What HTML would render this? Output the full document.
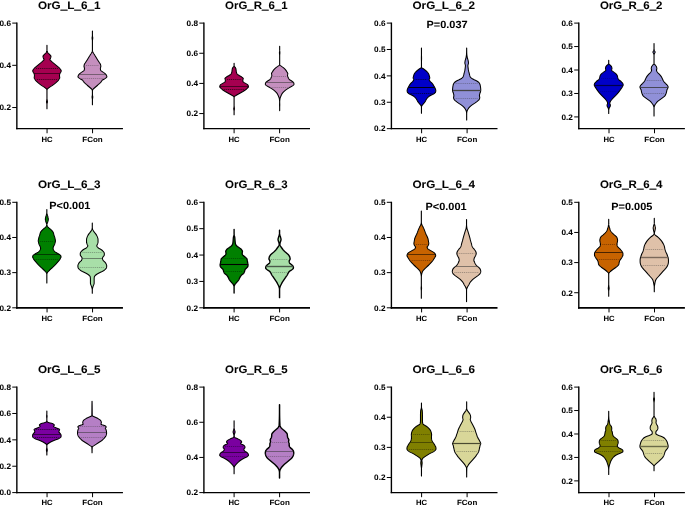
<!DOCTYPE html>
<html lang="en"><head><meta charset="utf-8"><title>Violin plots</title>
<style>html,body{margin:0;padding:0;background:#fff;}body{width:685px;height:506px;overflow:hidden;}svg{display:block;}text{font-family:"Liberation Sans",sans-serif;font-weight:bold;fill:#000;stroke:#000;stroke-width:0.05px;text-rendering:geometricPrecision;}.t{font-size:10.9px;text-anchor:middle;stroke-width:0.04px;}.p{font-size:10.4px;text-anchor:middle;stroke-width:0.04px;}.y{font-size:7.9px;text-anchor:end;}.x{font-size:7.5px;text-anchor:middle;}.u{stroke-width:0.55px;}.a{stroke:#000;stroke-width:1.4;fill:none;}.k{stroke:#000;stroke-width:1;fill:none;}</style></head><body>
<svg width="685" height="506" viewBox="0 0 685 506">
<rect width="685" height="506" fill="#fff"/>
<g>
<path d="M16.15 128.65 H122.95" stroke="#000" stroke-width="1.2" fill="none"/>
<path class="a" d="M16.85 22.55 V129.25"/>
<path class="k" d="M12.25 23.1 h4.6M12.25 65.32 h4.6M12.25 107.54 h4.6M47.05 128.65 v4.6M92.55 128.65 v4.6"/>
<text class="y" x="10.95" y="25.9" textLength="11.4" lengthAdjust="spacingAndGlyphs">0.6</text>
<text class="y" x="10.95" y="68.12" textLength="11.4" lengthAdjust="spacingAndGlyphs">0.4</text>
<text class="y" x="10.95" y="110.34" textLength="11.4" lengthAdjust="spacingAndGlyphs">0.2</text>
<text class="x" x="47.05" y="141.65" textLength="11.1" lengthAdjust="spacingAndGlyphs">HC</text>
<text class="x" x="92.55" y="141.65" textLength="20.4" lengthAdjust="spacingAndGlyphs">FCon</text>
<text class="t" x="69.25" y="8.8" textLength="62.6" lengthAdjust="spacingAndGlyphs">OrG<tspan class="u">_</tspan>L<tspan class="u">_</tspan>6<tspan class="u">_</tspan>1</text>
<path d="M46.94 45.27L46.94 45.78L46.94 46.28L46.94 46.79L46.94 47.29L46.94 47.79L46.94 48.3L46.94 48.8L46.94 49.31L46.94 49.81L46.94 50.31L46.93 50.82L46.83 51.32L46.62 51.83L46.36 52.33L46.05 52.84L45.55 53.34L44.97 53.84L44.44 54.35L43.97 54.85L43.49 55.36L43.11 55.86L42.98 56.37L43.03 56.87L43.15 57.37L43.31 57.88L43.49 58.38L43.82 58.89L44.04 59.39L43.91 59.89L43.49 60.4L42.94 60.9L42.41 61.41L41.88 61.91L41.3 62.42L40.7 62.92L40.11 63.42L39.51 63.93L38.9 64.43L38.29 64.94L37.68 65.44L37.06 65.94L36.45 66.45L35.87 66.95L35.28 67.46L34.69 67.96L34.16 68.47L33.74 68.97L33.35 69.47L33 69.98L32.78 70.48L32.76 70.99L32.9 71.49L33.13 72L33.36 72.5L33.69 73L34.03 73.51L34.21 74.01L34.31 74.52L34.39 75.02L34.43 75.52L34.43 76.03L34.35 76.53L34.25 77.04L34.19 77.54L34.24 78.05L34.44 78.55L34.74 79.05L35.11 79.56L35.49 80.06L35.87 80.57L36.33 81.07L36.85 81.57L37.4 82.08L37.96 82.58L38.54 83.09L39.14 83.59L39.76 84.1L40.42 84.6L41.09 85.1L41.81 85.61L42.61 86.11L43.42 86.62L44.2 87.12L44.88 87.63L45.52 88.13L46.16 88.63L46.66 89.14L46.87 89.64L46.92 90.15L46.94 90.65L46.94 91.15L46.94 91.66L46.94 92.16L46.94 92.67L46.94 93.17L46.94 93.68L46.94 94.18L46.94 94.68L46.94 95.19L46.94 95.69L46.94 96.2L46.94 96.7L46.94 97.2L46.94 97.71L46.94 98.21L46.94 98.72L46.93 99.22L46.87 99.73L46.76 100.23L46.63 100.73L46.54 101.24L46.49 101.74L46.54 102.25L46.67 102.75L46.82 103.25L46.92 103.76L46.94 104.26L46.94 104.77L46.94 105.27L46.94 105.78L46.94 106.28L46.94 106.78L46.94 107.29L46.94 107.79L46.94 108.3L46.94 108.8L47 108.8L47 108.3L47 107.79L47 107.29L47 106.78L47 106.28L47 105.78L47 105.27L47 104.77L47 104.26L47.02 103.76L47.12 103.25L47.27 102.75L47.4 102.25L47.45 101.74L47.41 101.24L47.31 100.73L47.19 100.23L47.08 99.73L47.01 99.22L47 98.72L47 98.21L47 97.71L47 97.2L47 96.7L47 96.2L47 95.69L47 95.19L47 94.68L47 94.18L47 93.68L47 93.17L47 92.67L47 92.16L47 91.66L47 91.15L47 90.65L47.03 90.15L47.07 89.64L47.28 89.14L47.78 88.63L48.42 88.13L49.06 87.63L49.75 87.12L50.52 86.62L51.34 86.11L52.13 85.61L52.85 85.1L53.53 84.6L54.18 84.1L54.81 83.59L55.41 83.09L55.98 82.58L56.54 82.08L57.09 81.57L57.61 81.07L58.07 80.57L58.46 80.06L58.83 79.56L59.2 79.05L59.5 78.55L59.7 78.05L59.75 77.54L59.69 77.04L59.59 76.53L59.52 76.03L59.51 75.52L59.55 75.02L59.63 74.52L59.73 74.01L59.92 73.51L60.25 73L60.58 72.5L60.82 72L61.04 71.49L61.18 70.99L61.16 70.48L60.94 69.98L60.59 69.47L60.2 68.97L59.78 68.47L59.25 67.96L58.66 67.46L58.08 66.95L57.49 66.45L56.88 65.94L56.26 65.44L55.65 64.94L55.04 64.43L54.43 63.93L53.83 63.42L53.24 62.92L52.64 62.42L52.06 61.91L51.53 61.41L51 60.9L50.45 60.4L50.04 59.89L49.9 59.39L50.13 58.89L50.45 58.38L50.63 57.88L50.79 57.37L50.91 56.87L50.97 56.37L50.83 55.86L50.45 55.36L49.97 54.85L49.51 54.35L48.98 53.84L48.39 53.34L47.89 52.84L47.58 52.33L47.32 51.83L47.11 51.32L47.01 50.82L47 50.31L47 49.81L47 49.31L47 48.8L47 48.3L47 47.79L47 47.29L47 46.79L47 46.28L47 45.78L47 45.27Z" fill="#A50050" stroke="#000" stroke-width="1.05" stroke-linejoin="round"/>
<line x1="36.03" y1="68.5" x2="57.91" y2="68.5" stroke="#000" stroke-width="0.6" stroke-dasharray="1.1 0.8"/>
<line x1="34.32" y1="73.5" x2="59.62" y2="73.5" stroke="#000" stroke-width="0.55"/>
<line x1="36.97" y1="79.5" x2="56.97" y2="79.5" stroke="#000" stroke-width="0.6" stroke-dasharray="1.1 0.8"/>
<path d="M92.39 30.96L92.39 31.47L92.39 31.97L92.39 32.47L92.39 32.98L92.39 33.48L92.39 33.99L92.39 34.49L92.39 35L92.39 35.5L92.37 36.01L92.29 36.51L92.18 37.02L92.1 37.52L92.07 38.03L92.1 38.53L92.18 39.04L92.27 39.54L92.35 40.05L92.39 40.55L92.39 41.06L92.39 41.56L92.39 42.07L92.39 42.57L92.39 43.08L92.39 43.58L92.39 44.08L92.39 44.59L92.39 45.09L92.39 45.6L92.39 46.1L92.39 46.61L92.39 47.11L92.39 47.62L92.39 48.12L92.39 48.63L92.39 49.13L92.39 49.64L92.39 50.14L92.39 50.65L92.31 51.15L92.1 51.66L91.83 52.16L91.57 52.67L91.3 53.17L91 53.68L90.68 54.18L90.35 54.68L90.05 55.19L89.74 55.69L89.44 56.2L89.14 56.7L88.83 57.21L88.53 57.71L88.23 58.22L87.93 58.72L87.63 59.23L87.33 59.73L87.01 60.24L86.69 60.74L86.35 61.25L86.02 61.75L85.69 62.26L85.37 62.76L85.02 63.27L84.69 63.77L84.42 64.28L84.26 64.78L84.12 65.29L84.02 65.79L83.97 66.29L84.04 66.8L84.22 67.3L84.4 67.81L84.47 68.31L84.44 68.82L84.38 69.32L84.29 69.83L84.13 70.33L83.65 70.84L82.93 71.34L82.18 71.85L81.5 72.35L80.76 72.86L80.05 73.36L79.48 73.87L79.05 74.37L78.68 74.88L78.37 75.38L78.15 75.89L77.98 76.39L77.99 76.9L78.33 77.4L78.87 77.9L79.47 78.41L80.34 78.91L81.37 79.42L82.28 79.92L82.81 80.43L83.15 80.93L83.43 81.44L83.75 81.94L84.18 82.45L84.67 82.95L85.2 83.46L85.75 83.96L86.31 84.47L86.91 84.97L87.51 85.48L88.11 85.98L88.71 86.49L89.31 86.99L89.89 87.5L90.45 88L91.04 88.51L91.58 89.01L91.96 89.51L92.19 90.02L92.35 90.52L92.39 91.03L92.39 91.53L92.39 92.04L92.39 92.54L92.39 93.05L92.39 93.55L92.39 94.06L92.39 94.56L92.36 95.07L92.28 95.57L92.17 96.08L92.09 96.58L92.07 97.09L92.11 97.59L92.19 98.1L92.28 98.6L92.36 99.11L92.39 99.61L92.39 100.11L92.39 100.62L92.39 101.12L92.39 101.63L92.39 102.13L92.39 102.64L92.39 103.14L92.39 103.65L92.39 104.15L92.39 104.66L92.45 104.66L92.45 104.15L92.45 103.65L92.45 103.14L92.45 102.64L92.45 102.13L92.45 101.63L92.45 101.12L92.45 100.62L92.45 100.11L92.45 99.61L92.48 99.11L92.56 98.6L92.65 98.1L92.73 97.59L92.77 97.09L92.75 96.58L92.67 96.08L92.56 95.57L92.48 95.07L92.45 94.56L92.45 94.06L92.45 93.55L92.45 93.05L92.45 92.54L92.45 92.04L92.45 91.53L92.45 91.03L92.49 90.52L92.65 90.02L92.87 89.51L93.26 89.01L93.8 88.51L94.39 88L94.95 87.5L95.53 86.99L96.13 86.49L96.73 85.98L97.33 85.48L97.93 84.97L98.53 84.47L99.09 83.96L99.64 83.46L100.17 82.95L100.66 82.45L101.09 81.94L101.41 81.44L101.69 80.93L102.03 80.43L102.56 79.92L103.47 79.42L104.5 78.91L105.37 78.41L105.97 77.9L106.51 77.4L106.85 76.9L106.86 76.39L106.69 75.89L106.47 75.38L106.16 74.88L105.79 74.37L105.36 73.87L104.79 73.36L104.08 72.86L103.34 72.35L102.66 71.85L101.91 71.34L101.19 70.84L100.71 70.33L100.55 69.83L100.46 69.32L100.4 68.82L100.37 68.31L100.44 67.81L100.62 67.3L100.8 66.8L100.87 66.29L100.82 65.79L100.72 65.29L100.58 64.78L100.42 64.28L100.15 63.77L99.82 63.27L99.47 62.76L99.15 62.26L98.82 61.75L98.49 61.25L98.15 60.74L97.83 60.24L97.51 59.73L97.21 59.23L96.91 58.72L96.61 58.22L96.31 57.71L96.01 57.21L95.7 56.7L95.4 56.2L95.1 55.69L94.79 55.19L94.49 54.68L94.16 54.18L93.84 53.68L93.54 53.17L93.27 52.67L93.01 52.16L92.74 51.66L92.53 51.15L92.45 50.65L92.45 50.14L92.45 49.64L92.45 49.13L92.45 48.63L92.45 48.12L92.45 47.62L92.45 47.11L92.45 46.61L92.45 46.1L92.45 45.6L92.45 45.09L92.45 44.59L92.45 44.08L92.45 43.58L92.45 43.08L92.45 42.57L92.45 42.07L92.45 41.56L92.45 41.06L92.45 40.55L92.49 40.05L92.57 39.54L92.66 39.04L92.74 38.53L92.77 38.03L92.74 37.52L92.66 37.02L92.55 36.51L92.47 36.01L92.45 35.5L92.45 35L92.45 34.49L92.45 33.99L92.45 33.48L92.45 32.98L92.45 32.47L92.45 31.97L92.45 31.47L92.45 30.96Z" fill="#C58FBE" stroke="#000" stroke-width="1.05" stroke-linejoin="round"/>
<line x1="85.97" y1="65.5" x2="98.87" y2="65.5" stroke="#333" stroke-width="0.6" stroke-dasharray="1.1 0.8" stroke-opacity="0.6"/>
<line x1="79.25" y1="74.5" x2="105.59" y2="74.5" stroke="#333" stroke-width="0.55"/>
<line x1="81.52" y1="78.5" x2="103.32" y2="78.5" stroke="#333" stroke-width="0.6" stroke-dasharray="1.1 0.8" stroke-opacity="0.6"/>
</g>
<g>
<path d="M203.2 128.65 H310" stroke="#000" stroke-width="1.2" fill="none"/>
<path class="a" d="M203.9 22.55 V129.25"/>
<path class="k" d="M199.3 23.1 h4.6M199.3 53.26 h4.6M199.3 83.41 h4.6M199.3 113.57 h4.6M234.1 128.65 v4.6M279.6 128.65 v4.6"/>
<text class="y" x="198" y="25.9" textLength="11.4" lengthAdjust="spacingAndGlyphs">0.8</text>
<text class="y" x="198" y="56.06" textLength="11.4" lengthAdjust="spacingAndGlyphs">0.6</text>
<text class="y" x="198" y="86.21" textLength="11.4" lengthAdjust="spacingAndGlyphs">0.4</text>
<text class="y" x="198" y="116.37" textLength="11.4" lengthAdjust="spacingAndGlyphs">0.2</text>
<text class="x" x="234.1" y="141.65" textLength="11.1" lengthAdjust="spacingAndGlyphs">HC</text>
<text class="x" x="279.6" y="141.65" textLength="20.4" lengthAdjust="spacingAndGlyphs">FCon</text>
<text class="t" x="256.3" y="8.8" textLength="62.6" lengthAdjust="spacingAndGlyphs">OrG<tspan class="u">_</tspan>R<tspan class="u">_</tspan>6<tspan class="u">_</tspan>1</text>
<path d="M234.06 63.16L234.06 63.66L234.06 64.17L234.06 64.67L234.06 65.18L234.06 65.69L234.06 66.19L233.77 66.7L233.22 67.2L232.74 67.71L232.49 68.22L232.33 68.72L232.21 69.23L232.12 69.73L232.06 70.24L232.01 70.74L231.97 71.25L231.91 71.76L231.8 72.26L231.64 72.77L231.44 73.27L231.16 73.78L230.69 74.29L230.07 74.79L229.38 75.3L228.62 75.8L227.67 76.31L226.73 76.82L225.98 77.32L225.4 77.83L224.96 78.33L224.92 78.84L225.13 79.34L225.35 79.85L225.38 80.36L225.33 80.86L225.23 81.37L225.07 81.87L224.46 82.38L223.53 82.89L222.66 83.39L221.82 83.9L220.96 84.4L220.33 84.91L220.06 85.42L219.87 85.92L219.76 86.43L219.76 86.93L220.05 87.44L220.54 87.94L221.05 88.45L221.61 88.96L222.25 89.46L222.95 89.97L223.68 90.47L224.44 90.98L225.25 91.49L226.1 91.99L226.97 92.5L227.84 93L228.73 93.51L229.66 94.02L230.57 94.52L231.44 95.03L232.3 95.53L233.22 96.04L233.87 96.55L234.01 97.05L234.04 97.56L234.05 98.06L234.06 98.57L234.06 99.07L234.06 99.58L234.06 100.09L234.06 100.59L234.06 101.1L234.06 101.6L234.06 102.11L234.06 102.62L234.06 103.12L234.06 103.63L234.06 104.13L234.06 104.64L234.06 105.15L234.06 105.65L234.06 106.16L234.04 106.66L233.96 107.17L233.86 107.67L233.78 108.18L233.74 108.69L233.77 109.19L233.85 109.7L233.94 110.2L234.02 110.71L234.06 111.22L234.06 111.72L234.06 112.23L234.06 112.73L234.06 113.24L234.06 113.75L234.06 114.25L234.06 114.76L234.12 114.76L234.12 114.25L234.12 113.75L234.12 113.24L234.12 112.73L234.12 112.23L234.12 111.72L234.12 111.22L234.16 110.71L234.24 110.2L234.34 109.7L234.42 109.19L234.45 108.69L234.41 108.18L234.32 107.67L234.23 107.17L234.15 106.66L234.12 106.16L234.12 105.65L234.12 105.15L234.12 104.64L234.12 104.13L234.12 103.63L234.12 103.12L234.12 102.62L234.12 102.11L234.12 101.6L234.12 101.1L234.12 100.59L234.12 100.09L234.12 99.58L234.12 99.07L234.12 98.57L234.13 98.06L234.15 97.56L234.18 97.05L234.31 96.55L234.96 96.04L235.89 95.53L236.75 95.03L237.61 94.52L238.53 94.02L239.45 93.51L240.34 93L241.21 92.5L242.08 91.99L242.93 91.49L243.74 90.98L244.5 90.47L245.23 89.97L245.93 89.46L246.58 88.96L247.13 88.45L247.64 87.94L248.13 87.44L248.42 86.93L248.42 86.43L248.31 85.92L248.13 85.42L247.86 84.91L247.22 84.4L246.37 83.9L245.53 83.39L244.65 82.89L243.73 82.38L243.11 81.87L242.95 81.37L242.85 80.86L242.8 80.36L242.83 79.85L243.05 79.34L243.26 78.84L243.22 78.33L242.79 77.83L242.21 77.32L241.46 76.82L240.51 76.31L239.56 75.8L238.81 75.3L238.11 74.79L237.49 74.29L237.02 73.78L236.75 73.27L236.54 72.77L236.38 72.26L236.28 71.76L236.21 71.25L236.17 70.74L236.13 70.24L236.07 69.73L235.98 69.23L235.86 68.72L235.69 68.22L235.44 67.71L234.97 67.2L234.42 66.7L234.12 66.19L234.12 65.69L234.12 65.18L234.12 64.67L234.12 64.17L234.12 63.66L234.12 63.16Z" fill="#A50050" stroke="#000" stroke-width="1.05" stroke-linejoin="round"/>
<line x1="227.1" y1="79.5" x2="241.08" y2="79.5" stroke="#000" stroke-width="0.6" stroke-dasharray="1.1 0.8"/>
<line x1="220.06" y1="86.5" x2="248.12" y2="86.5" stroke="#000" stroke-width="0.55"/>
<line x1="224.2" y1="89.5" x2="243.98" y2="89.5" stroke="#000" stroke-width="0.6" stroke-dasharray="1.1 0.8"/>
<path d="M279.64 46.33L279.64 46.84L279.64 47.35L279.64 47.85L279.64 48.36L279.64 48.86L279.64 49.37L279.64 49.88L279.64 50.38L279.61 50.89L279.56 51.39L279.49 51.9L279.45 52.41L279.44 52.91L279.47 53.42L279.52 53.92L279.58 54.43L279.62 54.94L279.64 55.44L279.64 55.95L279.64 56.46L279.64 56.96L279.64 57.47L279.64 57.97L279.64 58.48L279.64 58.99L279.64 59.49L279.64 60L279.64 60.5L279.64 61.01L279.64 61.52L279.64 62.02L279.64 62.53L279.64 63.04L279.64 63.54L279.64 64.05L279.64 64.55L279.51 65.06L278.84 65.57L278.08 66.07L277.4 66.58L276.69 67.08L276.01 67.59L275.42 68.1L274.89 68.6L274.39 69.11L273.95 69.62L273.55 70.12L273.2 70.63L272.87 71.13L272.56 71.64L272.23 72.15L271.88 72.65L271.61 73.16L271.53 73.66L271.6 74.17L271.72 74.68L271.82 75.18L271.83 75.69L271.7 76.2L271.5 76.7L271.27 77.21L271.07 77.71L270.86 78.22L270.6 78.73L270.27 79.23L269.69 79.74L268.87 80.24L268.02 80.75L267.33 81.26L266.68 81.76L266.09 82.27L265.66 82.78L265.48 83.28L265.36 83.79L265.32 84.29L265.58 84.8L266.16 85.31L266.88 85.81L267.59 86.32L268.43 86.82L269.37 87.33L270.29 87.84L271.12 88.34L271.94 88.85L272.72 89.36L273.43 89.86L274.07 90.37L274.66 90.87L275.2 91.38L275.71 91.89L276.2 92.39L276.66 92.9L277.06 93.4L277.4 93.91L277.69 94.42L277.95 94.92L278.18 95.43L278.4 95.94L278.6 96.44L278.8 96.95L278.99 97.45L279.15 97.96L279.27 98.47L279.36 98.97L279.43 99.48L279.5 99.98L279.56 100.49L279.61 101L279.63 101.5L279.64 102.01L279.63 102.52L279.61 103.02L279.6 103.53L279.58 104.03L279.57 104.54L279.56 105.05L279.57 105.55L279.59 106.06L279.61 106.56L279.63 107.07L279.64 107.58L279.64 108.08L279.64 108.59L279.64 109.1L279.64 109.6L279.64 110.11L279.64 110.61L279.7 110.61L279.7 110.11L279.7 109.6L279.7 109.1L279.7 108.59L279.7 108.08L279.7 107.58L279.7 107.07L279.72 106.56L279.74 106.06L279.76 105.55L279.77 105.05L279.77 104.54L279.75 104.03L279.74 103.53L279.72 103.02L279.71 102.52L279.7 102.01L279.7 101.5L279.73 101L279.77 100.49L279.83 99.98L279.9 99.48L279.98 98.97L280.06 98.47L280.19 97.96L280.35 97.45L280.53 96.95L280.73 96.44L280.93 95.94L281.15 95.43L281.38 94.92L281.65 94.42L281.94 93.91L282.27 93.4L282.67 92.9L283.13 92.39L283.62 91.89L284.13 91.38L284.68 90.87L285.27 90.37L285.91 89.86L286.62 89.36L287.4 88.85L288.21 88.34L289.05 87.84L289.97 87.33L290.91 86.82L291.75 86.32L292.45 85.81L293.17 85.31L293.75 84.8L294.02 84.29L293.98 83.79L293.86 83.28L293.67 82.78L293.25 82.27L292.65 81.76L292 81.26L291.32 80.75L290.46 80.24L289.64 79.74L289.06 79.23L288.73 78.73L288.48 78.22L288.27 77.71L288.06 77.21L287.84 76.7L287.63 76.2L287.51 75.69L287.51 75.18L287.61 74.68L287.73 74.17L287.8 73.66L287.72 73.16L287.45 72.65L287.1 72.15L286.77 71.64L286.46 71.13L286.14 70.63L285.78 70.12L285.39 69.62L284.94 69.11L284.45 68.6L283.91 68.1L283.32 67.59L282.64 67.08L281.93 66.58L281.25 66.07L280.49 65.57L279.82 65.06L279.7 64.55L279.7 64.05L279.7 63.54L279.7 63.04L279.7 62.53L279.7 62.02L279.7 61.52L279.7 61.01L279.7 60.5L279.7 60L279.7 59.49L279.7 58.99L279.7 58.48L279.7 57.97L279.7 57.47L279.7 56.96L279.7 56.46L279.7 55.95L279.7 55.44L279.71 54.94L279.75 54.43L279.81 53.92L279.86 53.42L279.89 52.91L279.88 52.41L279.84 51.9L279.78 51.39L279.72 50.89L279.7 50.38L279.7 49.88L279.7 49.37L279.7 48.86L279.7 48.36L279.7 47.85L279.7 47.35L279.7 46.84L279.7 46.33Z" fill="#C58FBE" stroke="#000" stroke-width="1.05" stroke-linejoin="round"/>
<line x1="273.48" y1="76.5" x2="285.86" y2="76.5" stroke="#333" stroke-width="0.6" stroke-dasharray="1.1 0.8" stroke-opacity="0.6"/>
<line x1="266.19" y1="82.5" x2="293.14" y2="82.5" stroke="#333" stroke-width="0.55"/>
<line x1="271.57" y1="87.5" x2="287.76" y2="87.5" stroke="#333" stroke-width="0.6" stroke-dasharray="1.1 0.8" stroke-opacity="0.6"/>
</g>
<g>
<path d="M390.7 128.65 H497.5" stroke="#000" stroke-width="1.2" fill="none"/>
<path class="a" d="M391.4 22.55 V129.25"/>
<path class="k" d="M386.8 23.1 h4.6M386.8 49.49 h4.6M386.8 75.88 h4.6M386.8 102.26 h4.6M386.8 128.65 h4.6M421.6 128.65 v4.6M467.1 128.65 v4.6"/>
<text class="y" x="385.5" y="25.9" textLength="11.4" lengthAdjust="spacingAndGlyphs">0.6</text>
<text class="y" x="385.5" y="52.29" textLength="11.4" lengthAdjust="spacingAndGlyphs">0.5</text>
<text class="y" x="385.5" y="78.67" textLength="11.4" lengthAdjust="spacingAndGlyphs">0.4</text>
<text class="y" x="385.5" y="105.06" textLength="11.4" lengthAdjust="spacingAndGlyphs">0.3</text>
<text class="y" x="385.5" y="131.45" textLength="11.4" lengthAdjust="spacingAndGlyphs">0.2</text>
<text class="x" x="421.6" y="141.65" textLength="11.1" lengthAdjust="spacingAndGlyphs">HC</text>
<text class="x" x="467.1" y="141.65" textLength="20.4" lengthAdjust="spacingAndGlyphs">FCon</text>
<text class="t" x="443.8" y="8.8" textLength="62.6" lengthAdjust="spacingAndGlyphs">OrG<tspan class="u">_</tspan>L<tspan class="u">_</tspan>6<tspan class="u">_</tspan>2</text>
<text class="p" x="447.1" y="27.6" textLength="41.1" lengthAdjust="spacingAndGlyphs">P=0.037</text>
<path d="M421.43 47.96L421.43 48.46L421.43 48.97L421.43 49.47L421.43 49.98L421.43 50.49L421.43 50.99L421.43 51.5L421.43 52L421.43 52.51L421.43 53.02L421.43 53.52L421.43 54.03L421.43 54.54L421.43 55.04L421.42 55.55L421.4 56.05L421.39 56.56L421.38 57.07L421.37 57.57L421.36 58.08L421.36 58.58L421.37 59.09L421.38 59.6L421.39 60.1L421.4 60.61L421.42 61.11L421.43 61.62L421.43 62.13L421.43 62.63L421.43 63.14L421.43 63.64L421.43 64.15L421.43 64.66L421.43 65.16L421.43 65.67L421.43 66.18L421.43 66.68L421.43 67.19L421.28 67.69L420.47 68.2L419.62 68.71L418.95 69.21L418.3 69.72L417.67 70.22L417.08 70.73L416.48 71.24L415.92 71.74L415.43 72.25L415.04 72.75L414.7 73.26L414.41 73.77L414.16 74.27L413.96 74.78L413.78 75.28L413.63 75.79L413.49 76.3L413.36 76.8L413.23 77.31L413.15 77.82L413.18 78.32L413.47 78.83L413.77 79.33L413.79 79.84L413.55 80.35L413.18 80.85L412.79 81.36L412.3 81.86L411.75 82.37L411.22 82.88L410.78 83.38L410.39 83.89L410.03 84.39L409.68 84.9L409.35 85.41L409.04 85.91L408.74 86.42L408.47 86.92L408.2 87.43L407.95 87.94L407.73 88.44L407.55 88.95L407.37 89.46L407.21 89.96L407.12 90.47L407.13 90.97L407.2 91.48L407.32 91.99L407.55 92.49L408.06 93L408.73 93.5L409.47 94.01L410.45 94.52L411.51 95.02L412.46 95.53L413.35 96.03L414.16 96.54L414.78 97.05L415.27 97.55L415.69 98.06L416.05 98.57L416.39 99.07L416.67 99.58L416.94 100.08L417.22 100.59L417.54 101.1L417.86 101.6L418.2 102.11L418.57 102.61L418.98 103.12L419.42 103.63L419.85 104.13L420.25 104.64L420.68 105.14L421.07 105.65L421.33 106.16L421.39 106.66L421.42 107.17L421.43 107.67L421.43 108.18L421.43 108.69L421.43 109.19L421.43 109.7L421.43 110.21L421.43 110.71L421.43 111.22L421.43 111.72L421.43 112.23L421.43 112.74L421.43 113.24L421.49 113.24L421.49 112.74L421.49 112.23L421.49 111.72L421.49 111.22L421.49 110.71L421.49 110.21L421.49 109.7L421.49 109.19L421.49 108.69L421.49 108.18L421.49 107.67L421.5 107.17L421.54 106.66L421.6 106.16L421.86 105.65L422.25 105.14L422.68 104.64L423.07 104.13L423.51 103.63L423.95 103.12L424.36 102.61L424.72 102.11L425.07 101.6L425.39 101.1L425.71 100.59L425.99 100.08L426.26 99.58L426.54 99.07L426.88 98.57L427.24 98.06L427.66 97.55L428.15 97.05L428.77 96.54L429.58 96.03L430.47 95.53L431.42 95.02L432.48 94.52L433.46 94.01L434.2 93.5L434.87 93L435.38 92.49L435.61 91.99L435.73 91.48L435.8 90.97L435.81 90.47L435.72 89.96L435.56 89.46L435.38 88.95L435.2 88.44L434.98 87.94L434.73 87.43L434.46 86.92L434.19 86.42L433.89 85.91L433.57 85.41L433.24 84.9L432.9 84.39L432.54 83.89L432.15 83.38L431.71 82.88L431.18 82.37L430.63 81.86L430.14 81.36L429.75 80.85L429.38 80.35L429.13 79.84L429.16 79.33L429.45 78.83L429.75 78.32L429.78 77.82L429.7 77.31L429.57 76.8L429.44 76.3L429.3 75.79L429.15 75.28L428.97 74.78L428.77 74.27L428.52 73.77L428.23 73.26L427.89 72.75L427.5 72.25L427.01 71.74L426.45 71.24L425.85 70.73L425.26 70.22L424.63 69.72L423.98 69.21L423.31 68.71L422.45 68.2L421.65 67.69L421.49 67.19L421.49 66.68L421.49 66.18L421.49 65.67L421.49 65.16L421.49 64.66L421.49 64.15L421.49 63.64L421.49 63.14L421.49 62.63L421.5 62.13L421.5 61.62L421.51 61.11L421.52 60.61L421.54 60.1L421.55 59.6L421.56 59.09L421.57 58.58L421.57 58.08L421.56 57.57L421.55 57.07L421.54 56.56L421.52 56.05L421.51 55.55L421.5 55.04L421.5 54.54L421.49 54.03L421.49 53.52L421.49 53.02L421.49 52.51L421.49 52L421.49 51.5L421.49 50.99L421.49 50.49L421.49 49.98L421.49 49.47L421.49 48.97L421.49 48.46L421.49 47.96Z" fill="#0000C8" stroke="#000" stroke-width="1.05" stroke-linejoin="round"/>
<line x1="415.68" y1="79.5" x2="427.25" y2="79.5" stroke="#000" stroke-width="0.6" stroke-dasharray="1.1 0.8"/>
<line x1="408.47" y1="87.5" x2="434.46" y2="87.5" stroke="#000" stroke-width="0.9"/>
<line x1="410.63" y1="93.5" x2="432.3" y2="93.5" stroke="#000" stroke-width="0.6" stroke-dasharray="1.1 0.8"/>
<path d="M466.63 47.96L466.63 48.46L466.63 48.96L466.63 49.47L466.62 49.97L466.62 50.48L466.61 50.98L466.6 51.48L466.59 51.99L466.58 52.49L466.57 53L466.56 53.5L466.53 54L466.49 54.51L466.43 55.01L466.37 55.52L466.29 56.02L466.21 56.52L466.12 57.03L466.02 57.53L465.92 58.04L465.79 58.54L465.63 59.04L465.45 59.55L465.29 60.05L465.17 60.55L465.08 61.06L465 61.56L464.93 62.07L464.88 62.57L464.87 63.07L464.94 63.58L465.08 64.08L465.25 64.59L465.38 65.09L465.43 65.59L465.41 66.1L465.36 66.6L465.3 67.11L465.23 67.61L465.17 68.11L465.11 68.62L465.04 69.12L464.96 69.63L464.88 70.13L464.79 70.63L464.68 71.14L464.55 71.64L464.42 72.15L464.28 72.65L464.15 73.15L464.03 73.66L463.92 74.16L463.8 74.67L463.67 75.17L463.51 75.67L463.34 76.18L463.12 76.68L462.85 77.19L462.47 77.69L461.8 78.19L460.94 78.7L460.03 79.2L459.09 79.71L458.02 80.21L456.96 80.71L456.09 81.22L455.4 81.72L454.79 82.22L454.29 82.73L453.93 83.23L453.66 83.74L453.43 84.24L453.26 84.74L453.13 85.25L453.02 85.75L452.92 86.26L452.84 86.76L452.78 87.26L452.72 87.77L452.67 88.27L452.62 88.78L452.58 89.28L452.56 89.78L452.57 90.29L452.63 90.79L452.74 91.3L452.85 91.8L453 92.3L453.21 92.81L453.42 93.31L453.57 93.82L453.69 94.32L453.79 94.82L453.86 95.33L453.87 95.83L453.79 96.34L453.67 96.84L453.58 97.34L453.58 97.85L453.69 98.35L453.87 98.86L454.1 99.36L454.42 99.86L454.93 100.37L455.54 100.87L456.15 101.38L456.77 101.88L457.45 102.38L458.15 102.89L458.87 103.39L459.64 103.89L460.43 104.4L461.17 104.9L461.83 105.41L462.46 105.91L463.04 106.41L463.56 106.92L464.05 107.42L464.49 107.93L464.89 108.43L465.23 108.93L465.54 109.44L465.81 109.94L466.03 110.45L466.18 110.95L466.33 111.45L466.45 111.96L466.55 112.46L466.61 112.97L466.62 113.47L466.63 113.97L466.63 114.48L466.63 114.98L466.63 115.49L466.63 115.99L466.63 116.49L466.63 117L466.63 117.5L466.63 118.01L466.63 118.51L466.63 119.01L466.63 119.52L466.63 120.02L466.69 120.02L466.69 119.52L466.69 119.01L466.69 118.51L466.69 118.01L466.69 117.5L466.69 117L466.69 116.49L466.69 115.99L466.69 115.49L466.7 114.98L466.7 114.48L466.7 113.97L466.7 113.47L466.71 112.97L466.77 112.46L466.87 111.96L467 111.45L467.14 110.95L467.3 110.45L467.52 109.94L467.79 109.44L468.09 108.93L468.43 108.43L468.83 107.93L469.28 107.42L469.76 106.92L470.29 106.41L470.87 105.91L471.49 105.41L472.15 104.9L472.9 104.4L473.69 103.89L474.46 103.39L475.18 102.89L475.88 102.38L476.55 101.88L477.18 101.38L477.79 100.87L478.39 100.37L478.9 99.86L479.23 99.36L479.45 98.86L479.63 98.35L479.74 97.85L479.75 97.34L479.66 96.84L479.54 96.34L479.45 95.83L479.46 95.33L479.53 94.82L479.63 94.32L479.75 93.82L479.91 93.31L480.12 92.81L480.33 92.3L480.47 91.8L480.59 91.3L480.69 90.79L480.75 90.29L480.76 89.78L480.74 89.28L480.7 88.78L480.66 88.27L480.6 87.77L480.55 87.26L480.48 86.76L480.4 86.26L480.31 85.75L480.2 85.25L480.07 84.74L479.89 84.24L479.67 83.74L479.39 83.23L479.04 82.73L478.53 82.22L477.92 81.72L477.23 81.22L476.36 80.71L475.31 80.21L474.23 79.71L473.3 79.2L472.38 78.7L471.52 78.19L470.86 77.69L470.47 77.19L470.2 76.68L469.99 76.18L469.81 75.67L469.65 75.17L469.52 74.67L469.4 74.16L469.29 73.66L469.17 73.15L469.04 72.65L468.91 72.15L468.77 71.64L468.65 71.14L468.54 70.63L468.45 70.13L468.36 69.63L468.29 69.12L468.22 68.62L468.15 68.11L468.09 67.61L468.02 67.11L467.96 66.6L467.92 66.1L467.9 65.59L467.94 65.09L468.08 64.59L468.24 64.08L468.39 63.58L468.46 63.07L468.44 62.57L468.4 62.07L468.33 61.56L468.24 61.06L468.15 60.55L468.04 60.05L467.88 59.55L467.7 59.04L467.53 58.54L467.4 58.04L467.3 57.53L467.21 57.03L467.12 56.52L467.03 56.02L466.96 55.52L466.89 55.01L466.84 54.51L466.8 54L466.77 53.5L466.76 53L466.74 52.49L466.73 51.99L466.72 51.48L466.72 50.98L466.71 50.48L466.7 49.97L466.7 49.47L466.7 48.96L466.69 48.46L466.69 47.96Z" fill="#9090D8" stroke="#000" stroke-width="1.05" stroke-linejoin="round"/>
<line x1="455.68" y1="83.5" x2="477.64" y2="83.5" stroke="#333" stroke-width="0.6" stroke-dasharray="1.1 0.8" stroke-opacity="0.6"/>
<line x1="452.9" y1="90.5" x2="480.43" y2="90.5" stroke="#444" stroke-width="1.3"/>
<line x1="455.65" y1="98.5" x2="477.68" y2="98.5" stroke="#333" stroke-width="0.6" stroke-dasharray="1.1 0.8" stroke-opacity="0.6"/>
</g>
<g>
<path d="M578.1 128.65 H684.9" stroke="#000" stroke-width="1.2" fill="none"/>
<path class="a" d="M578.8 22.55 V129.25"/>
<path class="k" d="M574.2 23.1 h4.6M574.2 46.56 h4.6M574.2 70.01 h4.6M574.2 93.47 h4.6M574.2 116.92 h4.6M609 128.65 v4.6M654.5 128.65 v4.6"/>
<text class="y" x="572.9" y="25.9" textLength="11.4" lengthAdjust="spacingAndGlyphs">0.6</text>
<text class="y" x="572.9" y="49.36" textLength="11.4" lengthAdjust="spacingAndGlyphs">0.5</text>
<text class="y" x="572.9" y="72.81" textLength="11.4" lengthAdjust="spacingAndGlyphs">0.4</text>
<text class="y" x="572.9" y="96.27" textLength="11.4" lengthAdjust="spacingAndGlyphs">0.3</text>
<text class="y" x="572.9" y="119.72" textLength="11.4" lengthAdjust="spacingAndGlyphs">0.2</text>
<text class="x" x="609" y="141.65" textLength="11.1" lengthAdjust="spacingAndGlyphs">HC</text>
<text class="x" x="654.5" y="141.65" textLength="20.4" lengthAdjust="spacingAndGlyphs">FCon</text>
<text class="t" x="631.2" y="8.8" textLength="62.6" lengthAdjust="spacingAndGlyphs">OrG<tspan class="u">_</tspan>R<tspan class="u">_</tspan>6<tspan class="u">_</tspan>2</text>
<path d="M608.68 60.27L608.68 60.78L608.68 61.28L608.68 61.79L608.68 62.3L608.68 62.8L608.68 63.31L608.6 63.81L608.16 64.32L607.47 64.83L606.96 65.33L606.49 65.84L606.08 66.34L605.81 66.85L605.67 67.35L605.56 67.86L605.49 68.37L605.47 68.87L605.66 69.38L605.88 69.88L605.81 70.39L605.32 70.89L604.63 71.4L603.95 71.91L603.31 72.41L602.62 72.92L601.96 73.42L601.43 73.93L600.97 74.44L600.57 74.94L600.26 75.45L600.05 75.95L599.91 76.46L599.8 76.96L599.67 77.47L599.51 77.98L599.34 78.48L599.14 78.99L598.87 79.49L598.38 80L597.67 80.5L596.93 81.01L596.33 81.52L595.8 82.02L595.31 82.53L594.92 83.03L594.65 83.54L594.42 84.04L594.27 84.55L594.25 85.06L594.4 85.56L594.64 86.07L594.89 86.57L595.21 87.08L595.57 87.59L595.93 88.09L596.27 88.6L596.6 89.1L596.94 89.61L597.28 90.11L597.64 90.62L598 91.13L598.38 91.63L598.77 92.14L599.17 92.64L599.59 93.15L600.03 93.65L600.47 94.16L600.94 94.67L601.41 95.17L601.9 95.68L602.39 96.18L602.9 96.69L603.41 97.2L603.91 97.7L604.41 98.21L604.89 98.71L605.36 99.22L605.79 99.72L606.21 100.23L606.6 100.74L606.93 101.24L607.18 101.75L607.4 102.25L607.58 102.76L607.67 103.26L607.58 103.77L607.35 104.28L607.13 104.78L607.04 105.29L607.11 105.79L607.24 106.3L607.42 106.81L607.72 107.31L608.04 107.82L608.28 108.32L608.43 108.83L608.57 109.33L608.66 109.84L608.68 110.35L608.68 110.85L608.68 111.36L608.68 111.86L608.68 112.37L608.68 112.87L608.68 113.38L608.74 113.38L608.74 112.87L608.74 112.37L608.74 111.86L608.74 111.36L608.74 110.85L608.74 110.35L608.77 109.84L608.86 109.33L608.99 108.83L609.14 108.32L609.38 107.82L609.7 107.31L610 106.81L610.18 106.3L610.31 105.79L610.38 105.29L610.3 104.78L610.07 104.28L609.84 103.77L609.76 103.26L609.84 102.76L610.02 102.25L610.25 101.75L610.49 101.24L610.82 100.74L611.21 100.23L611.64 99.72L612.06 99.22L612.53 98.71L613.02 98.21L613.51 97.7L614.01 97.2L614.52 96.69L615.03 96.18L615.53 95.68L616.01 95.17L616.49 94.67L616.95 94.16L617.4 93.65L617.83 93.15L618.25 92.64L618.65 92.14L619.04 91.63L619.42 91.13L619.78 90.62L620.14 90.11L620.49 89.61L620.82 89.1L621.15 88.6L621.49 88.09L621.86 87.59L622.22 87.08L622.53 86.57L622.78 86.07L623.03 85.56L623.18 85.06L623.16 84.55L623 84.04L622.77 83.54L622.5 83.03L622.11 82.53L621.62 82.02L621.09 81.52L620.49 81.01L619.75 80.5L619.04 80L618.55 79.49L618.28 78.99L618.08 78.48L617.91 77.98L617.75 77.47L617.62 76.96L617.51 76.46L617.37 75.95L617.17 75.45L616.85 74.94L616.45 74.44L616 73.93L615.47 73.42L614.81 72.92L614.11 72.41L613.47 71.91L612.79 71.4L612.1 70.89L611.62 70.39L611.54 69.88L611.76 69.38L611.95 68.87L611.93 68.37L611.86 67.86L611.75 67.35L611.61 66.85L611.35 66.34L610.94 65.84L610.46 65.33L609.95 64.83L609.26 64.32L608.82 63.81L608.75 63.31L608.74 62.8L608.74 62.3L608.74 61.79L608.74 61.28L608.74 60.78L608.74 60.27Z" fill="#0000C8" stroke="#000" stroke-width="1.05" stroke-linejoin="round"/>
<line x1="601.24" y1="78.5" x2="616.19" y2="78.5" stroke="#000090" stroke-width="0.6" stroke-dasharray="1.1 0.8"/>
<line x1="594.68" y1="85.5" x2="622.75" y2="85.5" stroke="#00004a" stroke-width="1.2"/>
<line x1="600.18" y1="91.5" x2="617.24" y2="91.5" stroke="#000090" stroke-width="0.6" stroke-dasharray="1.1 0.8"/>
<path d="M654 43.45L654 43.96L654 44.46L654 44.97L654 45.48L654 45.98L654 46.49L654 47L654 47.5L654 48.01L654 48.52L654 49.02L653.99 49.53L653.88 50.04L653.7 50.54L653.47 51.05L653.16 51.55L652.95 52.06L653 52.57L653.3 53.07L653.61 53.58L653.8 54.09L653.95 54.59L654 55.1L654 55.61L654 56.11L654 56.62L654 57.13L654 57.63L654 58.14L654 58.65L654 59.15L654 59.66L654 60.17L654 60.67L654 61.18L654 61.69L654 62.19L654 62.7L654 63.21L654 63.71L653.77 64.22L653.19 64.73L652.71 65.23L652.28 65.74L651.89 66.25L651.61 66.75L651.46 67.26L651.35 67.77L651.27 68.27L651.23 68.78L651.35 69.29L651.56 69.79L651.59 70.3L651.47 70.81L651.25 71.31L650.99 71.82L650.66 72.32L650.16 72.83L649.6 73.34L649.09 73.84L648.62 74.35L648.17 74.86L647.74 75.36L647.35 75.87L646.98 76.38L646.64 76.88L646.33 77.39L646.05 77.9L645.82 78.4L645.59 78.91L645.36 79.42L645.13 79.92L644.89 80.43L644.64 80.94L644.34 81.44L643.97 81.95L643.54 82.46L643.08 82.96L642.6 83.47L642.04 83.98L641.46 84.48L640.98 84.99L640.62 85.5L640.29 86L640.03 86.51L639.93 87.02L640.02 87.52L640.22 88.03L640.45 88.54L640.68 89.04L640.94 89.55L641.16 90.06L641.29 90.56L641.38 91.07L641.47 91.58L641.58 92.08L641.7 92.59L641.85 93.09L642.01 93.6L642.2 94.11L642.43 94.61L642.69 95.12L643.01 95.63L643.42 96.13L643.98 96.64L644.63 97.15L645.29 97.65L645.94 98.16L646.62 98.67L647.31 99.17L647.99 99.68L648.7 100.19L649.41 100.69L650.07 101.2L650.62 101.71L651.11 102.21L651.55 102.72L651.96 103.23L652.36 103.73L652.73 104.24L653.07 104.75L653.32 105.25L653.52 105.76L653.71 106.27L653.87 106.77L653.97 107.28L654 107.79L654 108.29L654 108.8L654 109.31L654 109.81L654 110.32L654 110.83L654 111.33L654 111.84L654 112.35L654 112.85L654 113.36L654 113.87L654 114.37L654 114.88L654 115.38L654 115.89L654.06 115.89L654.06 115.38L654.06 114.88L654.06 114.37L654.06 113.87L654.06 113.36L654.06 112.85L654.06 112.35L654.06 111.84L654.06 111.33L654.06 110.83L654.06 110.32L654.06 109.81L654.06 109.31L654.06 108.8L654.06 108.29L654.06 107.79L654.1 107.28L654.2 106.77L654.36 106.27L654.55 105.76L654.75 105.25L655 104.75L655.33 104.24L655.71 103.73L656.11 103.23L656.51 102.72L656.96 102.21L657.45 101.71L658 101.2L658.66 100.69L659.37 100.19L660.08 99.68L660.76 99.17L661.45 98.67L662.13 98.16L662.78 97.65L663.44 97.15L664.09 96.64L664.65 96.13L665.06 95.63L665.38 95.12L665.64 94.61L665.86 94.11L666.06 93.6L666.22 93.09L666.36 92.59L666.49 92.08L666.6 91.58L666.69 91.07L666.78 90.56L666.91 90.06L667.13 89.55L667.39 89.04L667.62 88.54L667.85 88.03L668.05 87.52L668.14 87.02L668.04 86.51L667.78 86L667.45 85.5L667.09 84.99L666.61 84.48L666.03 83.98L665.47 83.47L664.98 82.96L664.52 82.46L664.1 81.95L663.73 81.44L663.43 80.94L663.18 80.43L662.94 79.92L662.71 79.42L662.48 78.91L662.25 78.4L662.01 77.9L661.74 77.39L661.43 76.88L661.09 76.38L660.72 75.87L660.33 75.36L659.9 74.86L659.45 74.35L658.98 73.84L658.47 73.34L657.91 72.83L657.41 72.32L657.08 71.82L656.82 71.31L656.6 70.81L656.48 70.3L656.51 69.79L656.72 69.29L656.84 68.78L656.8 68.27L656.72 67.77L656.61 67.26L656.46 66.75L656.18 66.25L655.79 65.74L655.36 65.23L654.88 64.73L654.3 64.22L654.06 63.71L654.06 63.21L654.06 62.7L654.06 62.19L654.06 61.69L654.06 61.18L654.06 60.67L654.06 60.17L654.06 59.66L654.06 59.15L654.06 58.65L654.06 58.14L654.06 57.63L654.06 57.13L654.06 56.62L654.06 56.11L654.06 55.61L654.06 55.1L654.11 54.59L654.27 54.09L654.46 53.58L654.77 53.07L655.07 52.57L655.12 52.06L654.91 51.55L654.6 51.05L654.37 50.54L654.19 50.04L654.08 49.53L654.06 49.02L654.06 48.52L654.06 48.01L654.06 47.5L654.06 47L654.06 46.49L654.06 45.98L654.06 45.48L654.06 44.97L654.06 44.46L654.06 43.96L654.06 43.45Z" fill="#9090D8" stroke="#000" stroke-width="1.05" stroke-linejoin="round"/>
<line x1="646.76" y1="80.5" x2="661.31" y2="80.5" stroke="#333" stroke-width="0.6" stroke-dasharray="1.1 0.8" stroke-opacity="0.6"/>
<line x1="640.32" y1="87.5" x2="667.75" y2="87.5" stroke="#333" stroke-width="0.8"/>
<line x1="643.88" y1="93.5" x2="664.19" y2="93.5" stroke="#333" stroke-width="0.6" stroke-dasharray="1.1 0.8" stroke-opacity="0.6"/>
</g>
<g>
<path d="M16.15 307.8 H122.95" stroke="#000" stroke-width="1.75" fill="none"/>
<path class="a" d="M16.85 201.75 V308.68"/>
<path class="k" d="M12.25 202.3 h4.6M12.25 237.47 h4.6M12.25 272.63 h4.6M12.25 307.8 h4.6M47.05 307.8 v4.6M92.55 307.8 v4.6"/>
<text class="y" x="10.95" y="205.1" textLength="11.4" lengthAdjust="spacingAndGlyphs">0.5</text>
<text class="y" x="10.95" y="240.27" textLength="11.4" lengthAdjust="spacingAndGlyphs">0.4</text>
<text class="y" x="10.95" y="275.43" textLength="11.4" lengthAdjust="spacingAndGlyphs">0.3</text>
<text class="y" x="10.95" y="310.6" textLength="11.4" lengthAdjust="spacingAndGlyphs">0.2</text>
<text class="x" x="47.05" y="320.8" textLength="11.1" lengthAdjust="spacingAndGlyphs">HC</text>
<text class="x" x="92.55" y="320.8" textLength="20.4" lengthAdjust="spacingAndGlyphs">FCon</text>
<text class="t" x="69.25" y="188" textLength="62.6" lengthAdjust="spacingAndGlyphs">OrG<tspan class="u">_</tspan>L<tspan class="u">_</tspan>6<tspan class="u">_</tspan>3</text>
<text class="p" x="69.85" y="209.3" textLength="41.1" lengthAdjust="spacingAndGlyphs">P&lt;0.001</text>
<path d="M46.81 209.57L46.81 210.08L46.81 210.58L46.81 211.09L46.81 211.59L46.81 212.1L46.81 212.6L46.8 213.11L46.72 213.62L46.58 214.12L46.42 214.63L46.28 215.13L46.12 215.64L45.96 216.14L45.81 216.65L45.69 217.16L45.58 217.66L45.47 218.17L45.39 218.67L45.35 219.18L45.38 219.68L45.45 220.19L45.56 220.7L45.69 221.2L45.83 221.71L46.04 222.21L46.25 222.72L46.44 223.22L46.63 223.73L46.78 224.23L46.79 224.74L46.7 225.25L46.55 225.75L46.29 226.26L45.86 226.76L45.36 227.27L44.85 227.77L44.27 228.28L43.64 228.79L43.04 229.29L42.51 229.8L42.01 230.3L41.54 230.81L41.15 231.31L40.83 231.82L40.55 232.33L40.32 232.83L40.13 233.34L40 233.84L39.89 234.35L39.79 234.85L39.65 235.36L39.46 235.86L39.26 236.37L39.07 236.88L38.93 237.38L38.8 237.89L38.69 238.39L38.58 238.9L38.48 239.4L38.37 239.91L38.28 240.42L38.26 240.92L38.31 241.43L38.4 241.93L38.51 242.44L38.63 242.94L38.78 243.45L38.95 243.96L39.15 244.46L39.37 244.97L39.65 245.47L39.92 245.98L40.14 246.48L40.33 246.99L40.5 247.5L40.62 248L40.64 248.51L40.53 249.01L40.33 249.52L40.07 250.02L39.78 250.53L39.36 251.03L38.83 251.54L38.24 252.05L37.56 252.55L36.73 253.06L35.86 253.56L35.04 254.07L34.15 254.57L33.4 255.08L33.05 255.59L32.79 256.09L32.64 256.6L32.63 257.1L32.8 257.61L33.08 258.11L33.35 258.62L33.66 259.13L34.01 259.63L34.38 260.14L34.76 260.64L35.18 261.15L35.61 261.65L36.05 262.16L36.48 262.66L36.91 263.17L37.35 263.68L37.8 264.18L38.26 264.69L38.74 265.19L39.23 265.7L39.74 266.2L40.26 266.71L40.79 267.22L41.35 267.72L41.93 268.23L42.52 268.73L43.09 269.24L43.63 269.74L44.17 270.25L44.71 270.76L45.22 271.26L45.67 271.77L46.01 272.27L46.32 272.78L46.59 273.28L46.77 273.79L46.81 274.3L46.81 274.8L46.81 275.31L46.81 275.81L46.81 276.32L46.81 276.82L46.81 277.33L46.81 277.83L46.81 278.34L46.81 278.85L46.81 279.35L46.81 279.86L46.81 280.36L46.81 280.87L46.81 281.37L46.81 281.88L46.81 282.39L46.81 282.89L46.87 282.89L46.87 282.39L46.87 281.88L46.87 281.37L46.87 280.87L46.87 280.36L46.87 279.86L46.87 279.35L46.87 278.85L46.87 278.34L46.87 277.83L46.87 277.33L46.87 276.82L46.87 276.32L46.87 275.81L46.87 275.31L46.87 274.8L46.87 274.3L46.9 273.79L47.08 273.28L47.35 272.78L47.66 272.27L48.01 271.77L48.45 271.26L48.96 270.76L49.5 270.25L50.04 269.74L50.58 269.24L51.16 268.73L51.75 268.23L52.33 267.72L52.88 267.22L53.41 266.71L53.93 266.2L54.44 265.7L54.93 265.19L55.41 264.69L55.88 264.18L56.32 263.68L56.76 263.17L57.19 262.66L57.63 262.16L58.06 261.65L58.5 261.15L58.91 260.64L59.3 260.14L59.67 259.63L60.01 259.13L60.32 258.62L60.6 258.11L60.87 257.61L61.05 257.1L61.04 256.6L60.88 256.09L60.63 255.59L60.27 255.08L59.52 254.57L58.64 254.07L57.81 253.56L56.94 253.06L56.12 252.55L55.44 252.05L54.85 251.54L54.32 251.03L53.89 250.53L53.6 250.02L53.34 249.52L53.14 249.01L53.03 248.51L53.06 248L53.18 247.5L53.35 246.99L53.53 246.48L53.75 245.98L54.03 245.47L54.3 244.97L54.53 244.46L54.72 243.96L54.9 243.45L55.05 242.94L55.16 242.44L55.28 241.93L55.37 241.43L55.41 240.92L55.39 240.42L55.31 239.91L55.2 239.4L55.09 238.9L54.99 238.39L54.87 237.89L54.75 237.38L54.6 236.88L54.42 236.37L54.21 235.86L54.02 235.36L53.89 234.85L53.78 234.35L53.68 233.84L53.54 233.34L53.36 232.83L53.12 232.33L52.84 231.82L52.52 231.31L52.13 230.81L51.67 230.3L51.16 229.8L50.63 229.29L50.03 228.79L49.4 228.28L48.82 227.77L48.31 227.27L47.81 226.76L47.39 226.26L47.12 225.75L46.97 225.25L46.88 224.74L46.89 224.23L47.04 223.73L47.24 223.22L47.42 222.72L47.64 222.21L47.84 221.71L47.99 221.2L48.11 220.7L48.22 220.19L48.3 219.68L48.32 219.18L48.28 218.67L48.2 218.17L48.1 217.66L47.98 217.16L47.87 216.65L47.72 216.14L47.56 215.64L47.4 215.13L47.26 214.63L47.1 214.12L46.95 213.62L46.87 213.11L46.87 212.6L46.87 212.1L46.87 211.59L46.87 211.09L46.87 210.58L46.87 210.08L46.87 209.57Z" fill="#008000" stroke="#000" stroke-width="1.05" stroke-linejoin="round"/>
<line x1="40.22" y1="241.5" x2="53.46" y2="241.5" stroke="#003800" stroke-width="0.6" stroke-dasharray="1.1 0.8"/>
<line x1="34.58" y1="254.5" x2="59.09" y2="254.5" stroke="#000" stroke-width="0.55"/>
<line x1="35.82" y1="259.5" x2="57.86" y2="259.5" stroke="#003800" stroke-width="0.6" stroke-dasharray="1.1 0.8"/>
<path d="M92.26 223L92.26 223.51L92.26 224.01L92.26 224.52L92.26 225.02L92.26 225.53L92.26 226.03L92.26 226.54L92.26 227.04L92.26 227.55L92.26 228.05L92.23 228.56L92.08 229.06L91.85 229.57L91.6 230.07L91.33 230.58L90.99 231.08L90.63 231.59L90.27 232.09L89.89 232.6L89.48 233.1L89.08 233.61L88.71 234.11L88.38 234.62L88.08 235.12L87.8 235.63L87.54 236.13L87.32 236.64L87.14 237.14L86.96 237.65L86.79 238.15L86.65 238.66L86.56 239.16L86.53 239.67L86.53 240.17L86.53 240.68L86.53 241.18L86.53 241.69L86.54 242.19L86.61 242.7L86.77 243.2L86.95 243.71L87.13 244.21L87.38 244.72L87.64 245.22L87.78 245.73L87.72 246.23L87.43 246.74L87.01 247.24L86.53 247.74L85.84 248.25L84.91 248.75L83.96 249.26L83.2 249.76L82.54 250.27L81.94 250.77L81.44 251.28L81.05 251.78L80.69 252.29L80.4 252.79L80.26 253.3L80.26 253.8L80.26 254.31L80.26 254.81L80.38 255.32L80.74 255.82L81.14 256.33L81.44 256.83L81.75 257.34L82.01 257.84L82.14 258.35L82.09 258.85L81.94 259.36L81.72 259.86L81.47 260.37L81.05 260.87L80.47 261.38L79.9 261.88L79.46 262.39L79.07 262.89L78.71 263.4L78.44 263.9L78.24 264.41L78.06 264.91L77.93 265.42L77.87 265.92L77.89 266.43L77.93 266.93L77.99 267.44L78.16 267.94L78.49 268.45L78.89 268.95L79.36 269.46L79.99 269.96L80.73 270.47L81.52 270.97L82.44 271.48L83.5 271.98L84.57 272.49L85.54 272.99L86.47 273.5L87.35 274L88.13 274.5L88.76 275.01L89.36 275.51L89.86 276.02L90.15 276.52L90.25 277.03L90.32 277.53L90.38 278.04L90.41 278.54L90.42 279.05L90.43 279.55L90.43 280.06L90.43 280.56L90.43 281.07L90.43 281.57L90.43 282.08L90.43 282.58L90.43 283.09L90.46 283.59L90.58 284.1L90.76 284.6L90.96 285.11L91.18 285.61L91.38 286.12L91.55 286.62L91.69 287.13L91.84 287.63L91.98 288.14L92.11 288.64L92.21 289.15L92.25 289.65L92.26 290.16L92.26 290.66L92.26 291.17L92.26 291.67L92.26 292.18L92.26 292.68L92.26 293.19L92.32 293.19L92.32 292.68L92.32 292.18L92.32 291.67L92.32 291.17L92.32 290.66L92.32 290.16L92.32 289.65L92.37 289.15L92.46 288.64L92.59 288.14L92.73 287.63L92.88 287.13L93.03 286.62L93.19 286.12L93.39 285.61L93.61 285.11L93.82 284.6L93.99 284.1L94.11 283.59L94.15 283.09L94.15 282.58L94.15 282.08L94.15 281.57L94.15 281.07L94.15 280.56L94.15 280.06L94.15 279.55L94.15 279.05L94.16 278.54L94.2 278.04L94.25 277.53L94.32 277.03L94.42 276.52L94.71 276.02L95.21 275.51L95.81 275.01L96.45 274.5L97.22 274L98.1 273.5L99.03 272.99L100 272.49L101.07 271.98L102.13 271.48L103.05 270.97L103.85 270.47L104.58 269.96L105.21 269.46L105.68 268.95L106.08 268.45L106.41 267.94L106.58 267.44L106.64 266.93L106.69 266.43L106.7 265.92L106.65 265.42L106.51 264.91L106.33 264.41L106.13 263.9L105.86 263.4L105.51 262.89L105.11 262.39L104.67 261.88L104.1 261.38L103.53 260.87L103.1 260.37L102.85 259.86L102.63 259.36L102.48 258.85L102.43 258.35L102.56 257.84L102.82 257.34L103.13 256.83L103.43 256.33L103.83 255.82L104.19 255.32L104.32 254.81L104.32 254.31L104.32 253.8L104.31 253.3L104.17 252.79L103.88 252.29L103.52 251.78L103.13 251.28L102.63 250.77L102.03 250.27L101.37 249.76L100.61 249.26L99.66 248.75L98.73 248.25L98.05 247.74L97.56 247.24L97.14 246.74L96.86 246.23L96.79 245.73L96.94 245.22L97.19 244.72L97.44 244.21L97.63 243.71L97.81 243.2L97.96 242.7L98.04 242.19L98.04 241.69L98.04 241.18L98.04 240.68L98.04 240.17L98.04 239.67L98.01 239.16L97.92 238.66L97.78 238.15L97.61 237.65L97.44 237.14L97.25 236.64L97.03 236.13L96.77 235.63L96.49 235.12L96.19 234.62L95.86 234.11L95.49 233.61L95.09 233.1L94.69 232.6L94.31 232.09L93.94 231.59L93.58 231.08L93.24 230.58L92.97 230.07L92.72 229.57L92.49 229.06L92.34 228.56L92.32 228.05L92.32 227.55L92.32 227.04L92.32 226.54L92.32 226.03L92.32 225.53L92.32 225.02L92.32 224.52L92.32 224.01L92.32 223.51L92.32 223Z" fill="#A8DFA8" stroke="#000" stroke-width="1.05" stroke-linejoin="round"/>
<line x1="82.47" y1="252.5" x2="102.1" y2="252.5" stroke="#333" stroke-width="0.6" stroke-dasharray="1.1 0.8" stroke-opacity="0.6"/>
<line x1="82.42" y1="258.5" x2="102.15" y2="258.5" stroke="#333" stroke-width="0.55"/>
<line x1="79.92" y1="267.5" x2="104.66" y2="267.5" stroke="#333" stroke-width="0.6" stroke-dasharray="1.1 0.8" stroke-opacity="0.6"/>
</g>
<g>
<path d="M203.2 307.8 H310" stroke="#000" stroke-width="1.75" fill="none"/>
<path class="a" d="M203.9 201.75 V308.68"/>
<path class="k" d="M199.3 202.3 h4.6M199.3 228.68 h4.6M199.3 255.05 h4.6M199.3 281.43 h4.6M199.3 307.8 h4.6M234.1 307.8 v4.6M279.6 307.8 v4.6"/>
<text class="y" x="198" y="205.1" textLength="11.4" lengthAdjust="spacingAndGlyphs">0.6</text>
<text class="y" x="198" y="231.48" textLength="11.4" lengthAdjust="spacingAndGlyphs">0.5</text>
<text class="y" x="198" y="257.85" textLength="11.4" lengthAdjust="spacingAndGlyphs">0.4</text>
<text class="y" x="198" y="284.23" textLength="11.4" lengthAdjust="spacingAndGlyphs">0.3</text>
<text class="y" x="198" y="310.6" textLength="11.4" lengthAdjust="spacingAndGlyphs">0.2</text>
<text class="x" x="234.1" y="320.8" textLength="11.1" lengthAdjust="spacingAndGlyphs">HC</text>
<text class="x" x="279.6" y="320.8" textLength="20.4" lengthAdjust="spacingAndGlyphs">FCon</text>
<text class="t" x="256.3" y="188" textLength="62.6" lengthAdjust="spacingAndGlyphs">OrG<tspan class="u">_</tspan>R<tspan class="u">_</tspan>6<tspan class="u">_</tspan>3</text>
<path d="M234.06 229.35L234.06 229.86L234.06 230.37L234.06 230.87L234.06 231.38L234.05 231.88L234.05 232.39L234.05 232.89L234.05 233.4L234.05 233.9L234.03 234.41L233.96 234.91L233.86 235.42L233.74 235.92L233.62 236.43L233.5 236.93L233.4 237.44L233.34 237.94L233.29 238.45L233.25 238.95L233.21 239.46L233.18 239.96L233.14 240.47L233.1 240.97L233.05 241.48L232.99 241.98L232.94 242.49L232.87 242.99L232.79 243.5L232.68 244.01L232.48 244.51L232.17 245.02L231.77 245.52L231.32 246.03L230.72 246.53L230 247.04L229.26 247.54L228.59 248.05L227.87 248.55L227.2 249.06L226.68 249.56L226.32 250.07L226.01 250.57L225.79 251.08L225.7 251.58L225.77 252.09L225.91 252.59L226.04 253.1L226.07 253.6L225.92 254.11L225.64 254.61L225.29 255.12L224.89 255.62L224.26 256.13L223.55 256.63L222.9 257.14L222.37 257.65L221.85 258.15L221.42 258.66L221.16 259.16L221.03 259.67L220.94 260.17L220.86 260.68L220.77 261.18L220.68 261.69L220.6 262.19L220.52 262.7L220.42 263.2L220.29 263.71L220.17 264.21L220.11 264.72L220.13 265.22L220.18 265.73L220.27 266.23L220.46 266.74L220.91 267.24L221.42 267.75L221.88 268.25L222.39 268.76L222.86 269.26L223.18 269.77L223.35 270.27L223.46 270.78L223.58 271.29L223.74 271.79L223.95 272.3L224.21 272.8L224.52 273.31L224.93 273.81L225.56 274.32L226.26 274.82L226.86 275.33L227.28 275.83L227.63 276.34L227.94 276.84L228.23 277.35L228.47 277.85L228.69 278.36L228.92 278.86L229.18 279.37L229.49 279.87L229.83 280.38L230.2 280.88L230.59 281.39L231.03 281.89L231.48 282.4L231.93 282.9L232.37 283.41L232.83 283.91L233.23 284.42L233.52 284.93L233.74 285.43L233.92 285.94L234.04 286.44L234.06 286.95L234.06 287.45L234.06 287.96L234.06 288.46L234.06 288.97L234.06 289.47L234.06 289.98L234.06 290.48L234.06 290.99L234.06 291.49L234.06 292L234.06 292.5L234.06 293.01L234.12 293.01L234.12 292.5L234.12 292L234.12 291.49L234.12 290.99L234.12 290.48L234.12 289.98L234.12 289.47L234.12 288.97L234.12 288.46L234.12 287.96L234.12 287.45L234.12 286.95L234.14 286.44L234.25 285.94L234.44 285.43L234.66 284.93L234.94 284.42L235.35 283.91L235.81 283.41L236.25 282.9L236.69 282.4L237.15 281.89L237.59 281.39L237.98 280.88L238.34 280.38L238.68 279.87L238.99 279.37L239.26 278.86L239.48 278.36L239.7 277.85L239.95 277.35L240.23 276.84L240.55 276.34L240.9 275.83L241.32 275.33L241.92 274.82L242.62 274.32L243.25 273.81L243.65 273.31L243.97 272.8L244.23 272.3L244.44 271.79L244.6 271.29L244.71 270.78L244.83 270.27L244.99 269.77L245.31 269.26L245.78 268.76L246.29 268.25L246.76 267.75L247.27 267.24L247.72 266.74L247.91 266.23L247.99 265.73L248.05 265.22L248.06 264.72L248.01 264.21L247.89 263.71L247.76 263.2L247.66 262.7L247.57 262.19L247.49 261.69L247.41 261.18L247.32 260.68L247.24 260.17L247.15 259.67L247.01 259.16L246.76 258.66L246.33 258.15L245.81 257.65L245.27 257.14L244.63 256.63L243.91 256.13L243.29 255.62L242.88 255.12L242.53 254.61L242.25 254.11L242.11 253.6L242.14 253.1L242.27 252.59L242.41 252.09L242.48 251.58L242.39 251.08L242.16 250.57L241.85 250.07L241.5 249.56L240.98 249.06L240.3 248.55L239.59 248.05L238.91 247.54L238.17 247.04L237.45 246.53L236.86 246.03L236.41 245.52L236.01 245.02L235.69 244.51L235.5 244.01L235.39 243.5L235.31 242.99L235.24 242.49L235.18 241.98L235.13 241.48L235.08 240.97L235.04 240.47L235 239.96L234.97 239.46L234.93 238.95L234.89 238.45L234.84 237.94L234.77 237.44L234.68 236.93L234.56 236.43L234.43 235.92L234.31 235.42L234.21 234.91L234.15 234.41L234.13 233.9L234.13 233.4L234.12 232.89L234.12 232.39L234.12 231.88L234.12 231.38L234.12 230.87L234.12 230.37L234.12 229.86L234.12 229.35Z" fill="#008000" stroke="#000" stroke-width="1.3" stroke-linejoin="round"/>
<line x1="223.45" y1="258.5" x2="244.73" y2="258.5" stroke="#003800" stroke-width="0.6" stroke-dasharray="1.1 0.8"/>
<line x1="220.44" y1="264.5" x2="247.74" y2="264.5" stroke="#000" stroke-width="1.1"/>
<line x1="225.54" y1="271.5" x2="242.63" y2="271.5" stroke="#003800" stroke-width="0.6" stroke-dasharray="1.1 0.8"/>
<path d="M279.51 230.23L279.51 230.74L279.51 231.25L279.51 231.75L279.51 232.26L279.51 232.77L279.51 233.28L279.51 233.78L279.49 234.29L279.37 234.8L279.18 235.3L278.97 235.81L278.79 236.32L278.65 236.82L278.5 237.33L278.35 237.84L278.22 238.34L278.11 238.85L278.05 239.36L278.05 239.86L278.16 240.37L278.33 240.88L278.54 241.39L278.72 241.89L278.85 242.4L278.98 242.91L279.1 243.41L279.16 243.92L279.13 244.43L279.02 244.93L278.85 245.44L278.66 245.95L278.4 246.45L278.05 246.96L277.66 247.47L277.3 247.98L276.94 248.48L276.58 248.99L276.19 249.5L275.77 250L275.32 250.51L274.83 251.02L274.33 251.52L273.78 252.03L273.2 252.54L272.6 253.04L272.04 253.55L271.46 254.06L270.89 254.57L270.4 255.07L270.04 255.58L269.73 256.09L269.47 256.59L269.29 257.1L269.16 257.61L269.05 258.11L268.97 258.62L268.94 259.13L269.12 259.63L269.48 260.14L269.8 260.65L269.88 261.16L269.83 261.66L269.74 262.17L269.62 262.68L269.39 263.18L268.81 263.69L268.08 264.2L267.42 264.7L266.91 265.21L266.43 265.72L266.06 266.22L265.86 266.73L265.7 267.24L265.62 267.75L265.7 268.25L266.08 268.76L266.6 269.27L267.22 269.77L268.08 270.28L268.93 270.79L269.52 271.29L269.99 271.8L270.4 272.31L270.75 272.81L271.05 273.32L271.29 273.83L271.52 274.34L271.78 274.84L272.1 275.35L272.44 275.86L272.8 276.36L273.14 276.87L273.48 277.38L273.82 277.88L274.15 278.39L274.49 278.9L274.83 279.4L275.17 279.91L275.51 280.42L275.85 280.93L276.2 281.43L276.54 281.94L276.85 282.45L277.13 282.95L277.4 283.46L277.66 283.97L277.92 284.47L278.19 284.98L278.46 285.49L278.7 285.99L278.91 286.5L279.06 287.01L279.21 287.52L279.34 288.02L279.45 288.53L279.5 289.04L279.51 289.54L279.51 290.05L279.51 290.56L279.51 291.06L279.51 291.57L279.51 292.08L279.51 292.58L279.51 293.09L279.51 293.6L279.51 294.11L279.51 294.61L279.51 295.12L279.51 295.63L279.51 296.13L279.51 296.64L279.51 297.15L279.51 297.65L279.57 297.65L279.57 297.15L279.57 296.64L279.57 296.13L279.57 295.63L279.57 295.12L279.57 294.61L279.57 294.11L279.57 293.6L279.57 293.09L279.57 292.58L279.57 292.08L279.57 291.57L279.57 291.06L279.57 290.56L279.57 290.05L279.57 289.54L279.57 289.04L279.63 288.53L279.73 288.02L279.86 287.52L280.01 287.01L280.17 286.5L280.37 285.99L280.62 285.49L280.88 284.98L281.15 284.47L281.41 283.97L281.67 283.46L281.94 282.95L282.22 282.45L282.54 281.94L282.87 281.43L283.22 280.93L283.57 280.42L283.91 279.91L284.24 279.4L284.58 278.9L284.92 278.39L285.26 277.88L285.6 277.38L285.93 276.87L286.28 276.36L286.63 275.86L286.97 275.35L287.29 274.84L287.55 274.34L287.78 273.83L288.03 273.32L288.32 272.81L288.67 272.31L289.08 271.8L289.55 271.29L290.14 270.79L290.99 270.28L291.86 269.77L292.48 269.27L292.99 268.76L293.37 268.25L293.46 267.75L293.37 267.24L293.21 266.73L293.01 266.22L292.65 265.72L292.16 265.21L291.65 264.7L291 264.2L290.27 263.69L289.69 263.18L289.45 262.68L289.33 262.17L289.24 261.66L289.2 261.16L289.28 260.65L289.6 260.14L289.96 259.63L290.14 259.13L290.11 258.62L290.03 258.11L289.92 257.61L289.79 257.1L289.6 256.59L289.34 256.09L289.04 255.58L288.67 255.07L288.18 254.57L287.61 254.06L287.03 253.55L286.47 253.04L285.88 252.54L285.29 252.03L284.75 251.52L284.24 251.02L283.76 250.51L283.3 250L282.88 249.5L282.5 248.99L282.13 248.48L281.78 247.98L281.41 247.47L281.03 246.96L280.67 246.45L280.41 245.95L280.22 245.44L280.06 244.93L279.94 244.43L279.92 243.92L279.98 243.41L280.09 242.91L280.22 242.4L280.35 241.89L280.54 241.39L280.74 240.88L280.92 240.37L281.02 239.86L281.02 239.36L280.96 238.85L280.86 238.34L280.72 237.84L280.58 237.33L280.43 236.82L280.29 236.32L280.1 235.81L279.89 235.3L279.71 234.8L279.59 234.29L279.57 233.78L279.57 233.28L279.57 232.77L279.57 232.26L279.57 231.75L279.57 231.25L279.57 230.74L279.57 230.23Z" fill="#A8DFA8" stroke="#000" stroke-width="1.4" stroke-linejoin="round"/>
<line x1="270.97" y1="259.5" x2="288.1" y2="259.5" stroke="#333" stroke-width="0.6" stroke-dasharray="1.1 0.8" stroke-opacity="0.6"/>
<line x1="266.25" y1="266.5" x2="292.82" y2="266.5" stroke="#4a5a4a" stroke-width="1.4"/>
<line x1="272.44" y1="272.5" x2="286.64" y2="272.5" stroke="#333" stroke-width="0.6" stroke-dasharray="1.1 0.8" stroke-opacity="0.6"/>
</g>
<g>
<path d="M390.7 307.8 H497.5" stroke="#000" stroke-width="1.75" fill="none"/>
<path class="a" d="M391.4 201.75 V308.68"/>
<path class="k" d="M386.8 202.3 h4.6M386.8 237.47 h4.6M386.8 272.63 h4.6M386.8 307.8 h4.6M421.6 307.8 v4.6M467.1 307.8 v4.6"/>
<text class="y" x="385.5" y="205.1" textLength="11.4" lengthAdjust="spacingAndGlyphs">0.5</text>
<text class="y" x="385.5" y="240.27" textLength="11.4" lengthAdjust="spacingAndGlyphs">0.4</text>
<text class="y" x="385.5" y="275.43" textLength="11.4" lengthAdjust="spacingAndGlyphs">0.3</text>
<text class="y" x="385.5" y="310.6" textLength="11.4" lengthAdjust="spacingAndGlyphs">0.2</text>
<text class="x" x="421.6" y="320.8" textLength="11.1" lengthAdjust="spacingAndGlyphs">HC</text>
<text class="x" x="467.1" y="320.8" textLength="20.4" lengthAdjust="spacingAndGlyphs">FCon</text>
<text class="t" x="443.8" y="188" textLength="62.6" lengthAdjust="spacingAndGlyphs">OrG<tspan class="u">_</tspan>L<tspan class="u">_</tspan>6<tspan class="u">_</tspan>4</text>
<text class="p" x="446.1" y="210.05" textLength="41.1" lengthAdjust="spacingAndGlyphs">P&lt;0.001</text>
<path d="M421.31 210.95L421.31 211.46L421.31 211.96L421.31 212.47L421.31 212.97L421.31 213.48L421.31 213.98L421.31 214.49L421.31 214.99L421.31 215.5L421.31 216L421.31 216.51L421.31 217.01L421.31 217.52L421.31 218.02L421.31 218.53L421.31 219.03L421.31 219.54L421.31 220.04L421.31 220.55L421.31 221.05L421.31 221.56L421.31 222.06L421.28 222.57L421.22 223.07L421.13 223.58L421.02 224.08L420.9 224.59L420.7 225.09L420.43 225.6L420.14 226.1L419.87 226.61L419.61 227.11L419.35 227.62L419.09 228.13L418.85 228.63L418.63 229.14L418.43 229.64L418.25 230.15L418.07 230.65L417.88 231.16L417.69 231.66L417.49 232.17L417.3 232.67L417.09 233.18L416.88 233.68L416.66 234.19L416.42 234.69L416.17 235.2L415.92 235.7L415.69 236.21L415.47 236.71L415.26 237.22L415.05 237.72L414.86 238.23L414.7 238.73L414.58 239.24L414.48 239.74L414.4 240.25L414.32 240.75L414.24 241.26L414.15 241.76L414.04 242.27L413.94 242.77L413.89 243.28L413.93 243.78L414.03 244.29L414.18 244.79L414.36 245.3L414.71 245.8L415.17 246.31L415.52 246.81L415.57 247.32L415.41 247.82L415.13 248.33L414.77 248.83L414.27 249.34L413.45 249.84L412.47 250.35L411.54 250.85L410.67 251.36L409.78 251.86L408.97 252.37L408.37 252.87L407.89 253.38L407.49 253.89L407.24 254.39L407.09 254.9L407 255.4L407.03 255.91L407.27 256.41L407.6 256.92L407.89 257.42L408.18 257.93L408.49 258.43L408.81 258.94L409.13 259.44L409.45 259.95L409.79 260.45L410.15 260.96L410.54 261.46L410.96 261.97L411.4 262.47L411.85 262.98L412.32 263.48L412.81 263.99L413.32 264.49L413.84 265L414.39 265.5L414.96 266.01L415.52 266.51L416.09 267.02L416.66 267.52L417.22 268.03L417.74 268.53L418.24 269.04L418.71 269.54L419.14 270.05L419.5 270.55L419.83 271.06L420.12 271.56L420.36 272.07L420.55 272.57L420.72 273.08L420.88 273.58L421 274.09L421.09 274.59L421.16 275.1L421.21 275.6L421.26 276.11L421.29 276.61L421.31 277.12L421.31 277.62L421.31 278.13L421.31 278.64L421.31 279.14L421.31 279.65L421.31 280.15L421.31 280.66L421.31 281.16L421.31 281.67L421.31 282.17L421.31 282.68L421.31 283.18L421.31 283.69L421.31 284.19L421.31 284.7L421.31 285.2L421.3 285.71L421.27 286.21L421.22 286.72L421.16 287.22L421.12 287.73L421.11 288.23L421.13 288.74L421.17 289.24L421.22 289.75L421.27 290.25L421.3 290.76L421.31 291.26L421.31 291.77L421.31 292.27L421.31 292.78L421.31 293.28L421.31 293.79L421.31 294.29L421.31 294.8L421.31 295.3L421.31 295.81L421.31 296.31L421.31 296.82L421.31 297.32L421.31 297.83L421.31 298.33L421.37 298.33L421.37 297.83L421.37 297.32L421.37 296.82L421.37 296.31L421.37 295.81L421.37 295.3L421.37 294.8L421.37 294.29L421.37 293.79L421.37 293.28L421.37 292.78L421.37 292.27L421.37 291.77L421.37 291.26L421.37 290.76L421.41 290.25L421.45 289.75L421.51 289.24L421.55 288.74L421.57 288.23L421.55 287.73L421.51 287.22L421.46 286.72L421.41 286.21L421.38 285.71L421.37 285.2L421.37 284.7L421.37 284.19L421.37 283.69L421.37 283.18L421.37 282.68L421.37 282.17L421.37 281.67L421.37 281.16L421.37 280.66L421.37 280.15L421.37 279.65L421.37 279.14L421.37 278.64L421.37 278.13L421.37 277.62L421.37 277.12L421.39 276.61L421.42 276.11L421.47 275.6L421.52 275.1L421.59 274.59L421.68 274.09L421.8 273.58L421.95 273.08L422.13 272.57L422.32 272.07L422.56 271.56L422.85 271.06L423.18 270.55L423.54 270.05L423.97 269.54L424.44 269.04L424.94 268.53L425.46 268.03L426.02 267.52L426.59 267.02L427.15 266.51L427.72 266.01L428.28 265.5L428.84 265L429.36 264.49L429.87 263.99L430.36 263.48L430.83 262.98L431.28 262.47L431.72 261.97L432.13 261.46L432.53 260.96L432.89 260.45L433.23 259.95L433.55 259.44L433.87 258.94L434.19 258.43L434.5 257.93L434.79 257.42L435.08 256.92L435.41 256.41L435.65 255.91L435.68 255.4L435.59 254.9L435.44 254.39L435.19 253.89L434.79 253.38L434.3 252.87L433.7 252.37L432.9 251.86L432.01 251.36L431.14 250.85L430.21 250.35L429.23 249.84L428.4 249.34L427.91 248.83L427.55 248.33L427.27 247.82L427.11 247.32L427.16 246.81L427.51 246.31L427.97 245.8L428.32 245.3L428.49 244.79L428.65 244.29L428.75 243.78L428.79 243.28L428.74 242.77L428.64 242.27L428.53 241.76L428.44 241.26L428.36 240.75L428.28 240.25L428.2 239.74L428.1 239.24L427.98 238.73L427.82 238.23L427.63 237.72L427.42 237.22L427.21 236.71L426.99 236.21L426.76 235.7L426.51 235.2L426.26 234.69L426.01 234.19L425.79 233.68L425.58 233.18L425.38 232.67L425.18 232.17L424.99 231.66L424.8 231.16L424.61 230.65L424.43 230.15L424.25 229.64L424.05 229.14L423.83 228.63L423.59 228.13L423.33 227.62L423.07 227.11L422.81 226.61L422.54 226.1L422.25 225.6L421.98 225.09L421.78 224.59L421.65 224.08L421.55 223.58L421.46 223.07L421.4 222.57L421.37 222.06L421.37 221.56L421.37 221.05L421.37 220.55L421.37 220.04L421.37 219.54L421.37 219.03L421.37 218.53L421.37 218.02L421.37 217.52L421.37 217.01L421.37 216.51L421.37 216L421.37 215.5L421.37 214.99L421.37 214.49L421.37 213.98L421.37 213.48L421.37 212.97L421.37 212.47L421.37 211.96L421.37 211.46L421.37 210.95Z" fill="#C76300" stroke="#000" stroke-width="1.05" stroke-linejoin="round"/>
<line x1="415.99" y1="244.5" x2="426.68" y2="244.5" stroke="#5a2800" stroke-width="0.6" stroke-dasharray="1.1 0.8"/>
<line x1="407.51" y1="254.5" x2="435.17" y2="254.5" stroke="#000" stroke-width="0.55"/>
<line x1="411.72" y1="260.5" x2="430.95" y2="260.5" stroke="#5a2800" stroke-width="0.6" stroke-dasharray="1.1 0.8"/>
<path d="M466.51 219.49L466.51 219.99L466.51 220.5L466.51 221L466.51 221.5L466.51 222.01L466.51 222.51L466.51 223.02L466.51 223.52L466.51 224.02L466.51 224.53L466.5 225.03L466.47 225.53L466.43 226.04L466.37 226.54L466.31 227.05L466.23 227.55L466.16 228.05L466.07 228.56L465.92 229.06L465.75 229.56L465.56 230.07L465.38 230.57L465.22 231.07L465.06 231.58L464.91 232.08L464.76 232.59L464.61 233.09L464.46 233.59L464.31 234.1L464.16 234.6L464 235.1L463.86 235.61L463.71 236.11L463.57 236.62L463.43 237.12L463.29 237.62L463.16 238.13L463.03 238.63L462.9 239.13L462.78 239.64L462.66 240.14L462.53 240.65L462.39 241.15L462.24 241.65L462.08 242.16L461.92 242.66L461.78 243.16L461.64 243.67L461.53 244.17L461.42 244.68L461.3 245.18L461.15 245.68L460.97 246.19L460.75 246.69L460.48 247.19L460.18 247.7L459.82 248.2L459.37 248.71L458.92 249.21L458.52 249.71L458.13 250.22L457.76 250.72L457.46 251.22L457.25 251.73L457.06 252.23L456.91 252.74L456.83 253.24L456.86 253.74L456.99 254.25L457.16 254.75L457.34 255.25L457.57 255.76L457.83 256.26L458.08 256.77L458.37 257.27L458.65 257.77L458.86 258.28L458.99 258.78L459.1 259.28L459.18 259.79L459.21 260.29L459.14 260.8L458.97 261.3L458.75 261.8L458.53 262.31L458.32 262.81L458.07 263.31L457.79 263.82L457.47 264.32L457.09 264.83L456.65 265.33L456.18 265.83L455.64 266.34L455 266.84L454.37 267.34L453.86 267.85L453.44 268.35L453.05 268.86L452.75 269.36L452.58 269.86L452.46 270.37L452.37 270.87L452.32 271.37L452.33 271.88L452.45 272.38L452.65 272.89L452.89 273.39L453.22 273.89L453.71 274.4L454.28 274.9L454.87 275.4L455.5 275.91L456.19 276.41L456.89 276.92L457.57 277.42L458.27 277.92L458.96 278.43L459.61 278.93L460.19 279.43L460.71 279.94L461.2 280.44L461.67 280.95L462.13 281.45L462.58 281.95L462.99 282.46L463.34 282.96L463.61 283.46L463.85 283.97L464.08 284.47L464.35 284.97L464.67 285.48L465 285.98L465.28 286.49L465.52 286.99L465.77 287.49L466 288L466.21 288.5L466.37 289L466.48 289.51L466.51 290.01L466.51 290.52L466.51 291.02L466.51 291.52L466.51 292.03L466.51 292.53L466.51 293.03L466.51 293.54L466.51 294.04L466.51 294.55L466.51 295.05L466.51 295.55L466.51 296.06L466.51 296.56L466.51 297.06L466.51 297.57L466.51 298.07L466.51 298.58L466.51 299.08L466.51 299.58L466.51 300.09L466.51 300.59L466.51 301.09L466.51 301.6L466.57 301.6L466.57 301.09L466.57 300.59L466.57 300.09L466.57 299.58L466.57 299.08L466.57 298.58L466.57 298.07L466.57 297.57L466.57 297.06L466.57 296.56L466.57 296.06L466.57 295.55L466.57 295.05L466.57 294.55L466.57 294.04L466.57 293.54L466.57 293.03L466.57 292.53L466.57 292.03L466.57 291.52L466.57 291.02L466.57 290.52L466.57 290.01L466.6 289.51L466.7 289L466.86 288.5L467.07 288L467.31 287.49L467.55 286.99L467.79 286.49L468.07 285.98L468.4 285.48L468.72 284.97L468.99 284.47L469.23 283.97L469.46 283.46L469.74 282.96L470.08 282.46L470.49 281.95L470.94 281.45L471.41 280.95L471.87 280.44L472.36 279.94L472.89 279.43L473.46 278.93L474.11 278.43L474.8 277.92L475.5 277.42L476.19 276.92L476.89 276.41L477.57 275.91L478.2 275.4L478.79 274.9L479.37 274.4L479.86 273.89L480.18 273.39L480.42 272.89L480.62 272.38L480.74 271.88L480.76 271.37L480.71 270.87L480.61 270.37L480.49 269.86L480.32 269.36L480.02 268.86L479.64 268.35L479.21 267.85L478.7 267.34L478.07 266.84L477.43 266.34L476.89 265.83L476.42 265.33L475.98 264.83L475.6 264.32L475.28 263.82L475 263.31L474.76 262.81L474.54 262.31L474.33 261.8L474.1 261.3L473.93 260.8L473.86 260.29L473.89 259.79L473.97 259.28L474.08 258.78L474.21 258.28L474.42 257.77L474.7 257.27L474.99 256.77L475.24 256.26L475.5 255.76L475.73 255.25L475.91 254.75L476.08 254.25L476.21 253.74L476.24 253.24L476.16 252.74L476.01 252.23L475.83 251.73L475.62 251.22L475.31 250.72L474.94 250.22L474.56 249.71L474.15 249.21L473.7 248.71L473.26 248.2L472.89 247.7L472.59 247.19L472.33 246.69L472.1 246.19L471.92 245.68L471.78 245.18L471.66 244.68L471.55 244.17L471.43 243.67L471.3 243.16L471.15 242.66L470.99 242.16L470.84 241.65L470.68 241.15L470.54 240.65L470.42 240.14L470.29 239.64L470.17 239.13L470.05 238.63L469.92 238.13L469.78 237.62L469.64 237.12L469.5 236.62L469.36 236.11L469.22 235.61L469.07 235.1L468.92 234.6L468.76 234.1L468.61 233.59L468.46 233.09L468.31 232.59L468.16 232.08L468.01 231.58L467.86 231.07L467.7 230.57L467.52 230.07L467.33 229.56L467.15 229.06L467.01 228.56L466.92 228.05L466.84 227.55L466.77 227.05L466.7 226.54L466.65 226.04L466.6 225.53L466.58 225.03L466.57 224.53L466.57 224.02L466.57 223.52L466.57 223.02L466.57 222.51L466.57 222.01L466.57 221.5L466.57 221L466.57 220.5L466.57 219.99L466.57 219.49Z" fill="#DFC1A9" stroke="#000" stroke-width="1.05" stroke-linejoin="round"/>
<line x1="458.75" y1="253.5" x2="474.32" y2="253.5" stroke="#333" stroke-width="0.6" stroke-dasharray="1.1 0.8" stroke-opacity="0.6"/>
<line x1="455.74" y1="266.5" x2="477.34" y2="266.5" stroke="#333" stroke-width="0.55"/>
<line x1="454.4" y1="272.5" x2="478.67" y2="272.5" stroke="#333" stroke-width="0.6" stroke-dasharray="1.1 0.8" stroke-opacity="0.6"/>
</g>
<g>
<path d="M578.1 307.8 H684.9" stroke="#000" stroke-width="1.75" fill="none"/>
<path class="a" d="M578.8 201.75 V308.68"/>
<path class="k" d="M574.2 202.3 h4.6M574.2 232.44 h4.6M574.2 262.59 h4.6M574.2 292.73 h4.6M609 307.8 v4.6M654.5 307.8 v4.6"/>
<text class="y" x="572.9" y="205.1" textLength="11.4" lengthAdjust="spacingAndGlyphs">0.5</text>
<text class="y" x="572.9" y="235.24" textLength="11.4" lengthAdjust="spacingAndGlyphs">0.4</text>
<text class="y" x="572.9" y="265.39" textLength="11.4" lengthAdjust="spacingAndGlyphs">0.3</text>
<text class="y" x="572.9" y="295.53" textLength="11.4" lengthAdjust="spacingAndGlyphs">0.2</text>
<text class="x" x="609" y="320.8" textLength="11.1" lengthAdjust="spacingAndGlyphs">HC</text>
<text class="x" x="654.5" y="320.8" textLength="20.4" lengthAdjust="spacingAndGlyphs">FCon</text>
<text class="t" x="631.2" y="188" textLength="62.6" lengthAdjust="spacingAndGlyphs">OrG<tspan class="u">_</tspan>R<tspan class="u">_</tspan>6<tspan class="u">_</tspan>4</text>
<text class="p" x="631.8" y="210.05" textLength="41.1" lengthAdjust="spacingAndGlyphs">P=0.005</text>
<path d="M608.68 219.35L608.68 219.85L608.68 220.36L608.68 220.86L608.68 221.37L608.68 221.88L608.68 222.38L608.68 222.89L608.68 223.4L608.67 223.9L608.62 224.41L608.55 224.92L608.46 225.42L608.37 225.93L608.27 226.43L608.14 226.94L608 227.45L607.84 227.95L607.68 228.46L607.52 228.97L607.36 229.47L607.19 229.98L606.98 230.49L606.74 230.99L606.42 231.5L606 232L605.53 232.51L605.05 233.02L604.54 233.52L603.99 234.03L603.42 234.54L602.86 235.04L602.24 235.55L601.64 236.05L601.16 236.56L600.82 237.07L600.52 237.57L600.29 238.08L600.13 238.59L600 239.09L599.9 239.6L599.83 240.11L599.83 240.61L599.89 241.12L599.99 241.62L600.1 242.13L600.19 242.64L600.3 243.14L600.4 243.65L600.45 244.16L600.42 244.66L600.35 245.17L600.24 245.67L600.1 246.18L599.8 246.69L599.34 247.19L598.82 247.7L598.34 248.21L597.82 248.71L597.29 249.22L596.8 249.73L596.35 250.23L595.93 250.74L595.54 251.24L595.23 251.75L594.95 252.26L594.7 252.76L594.52 253.27L594.48 253.78L594.48 254.28L594.48 254.79L594.5 255.3L594.64 255.8L594.88 256.31L595.14 256.81L595.44 257.32L595.79 257.83L596.15 258.33L596.5 258.84L596.87 259.35L597.24 259.85L597.54 260.36L597.77 260.86L597.96 261.37L598.12 261.88L598.24 262.38L598.34 262.89L598.4 263.4L598.48 263.9L598.6 264.41L598.88 264.92L599.28 265.42L599.77 265.93L600.28 266.43L600.93 266.94L601.65 267.45L602.37 267.95L603.08 268.46L603.81 268.97L604.53 269.47L605.2 269.98L605.85 270.48L606.46 270.99L607.03 271.5L607.52 272L608.03 272.51L608.45 273.02L608.61 273.52L608.64 274.03L608.66 274.54L608.68 275.04L608.68 275.55L608.68 276.05L608.68 276.56L608.68 277.07L608.68 277.57L608.68 278.08L608.68 278.59L608.68 279.09L608.68 279.6L608.68 280.11L608.68 280.61L608.68 281.12L608.68 281.62L608.68 282.13L608.68 282.64L608.68 283.14L608.68 283.65L608.68 284.16L608.68 284.66L608.68 285.17L608.64 285.67L608.57 286.18L608.49 286.69L608.41 287.19L608.34 287.7L608.3 288.21L608.31 288.71L608.37 289.22L608.46 289.73L608.56 290.23L608.64 290.74L608.68 291.24L608.68 291.75L608.68 292.26L608.68 292.76L608.68 293.27L608.68 293.78L608.68 294.28L608.68 294.79L608.68 295.29L608.68 295.8L608.68 296.31L608.74 296.31L608.74 295.8L608.74 295.29L608.74 294.79L608.74 294.28L608.74 293.78L608.74 293.27L608.74 292.76L608.74 292.26L608.74 291.75L608.74 291.24L608.78 290.74L608.86 290.23L608.96 289.73L609.05 289.22L609.12 288.71L609.12 288.21L609.09 287.7L609.02 287.19L608.93 286.69L608.85 286.18L608.78 285.67L608.74 285.17L608.74 284.66L608.74 284.16L608.74 283.65L608.74 283.14L608.74 282.64L608.74 282.13L608.74 281.62L608.74 281.12L608.74 280.61L608.74 280.11L608.74 279.6L608.74 279.09L608.74 278.59L608.74 278.08L608.74 277.57L608.74 277.07L608.74 276.56L608.74 276.05L608.74 275.55L608.75 275.04L608.76 274.54L608.78 274.03L608.81 273.52L608.98 273.02L609.39 272.51L609.9 272L610.39 271.5L610.96 270.99L611.58 270.48L612.22 269.98L612.89 269.47L613.61 268.97L614.34 268.46L615.05 267.95L615.78 267.45L616.5 266.94L617.14 266.43L617.66 265.93L618.14 265.42L618.55 264.92L618.82 264.41L618.95 263.9L619.02 263.4L619.09 262.89L619.18 262.38L619.31 261.88L619.47 261.37L619.66 260.86L619.88 260.36L620.19 259.85L620.55 259.35L620.92 258.84L621.27 258.33L621.64 257.83L621.99 257.32L622.28 256.81L622.54 256.31L622.78 255.8L622.93 255.3L622.94 254.79L622.94 254.28L622.94 253.78L622.9 253.27L622.72 252.76L622.47 252.26L622.19 251.75L621.88 251.24L621.5 250.74L621.07 250.23L620.63 249.73L620.13 249.22L619.6 248.71L619.08 248.21L618.6 247.7L618.09 247.19L617.62 246.69L617.32 246.18L617.18 245.67L617.07 245.17L617 244.66L616.98 244.16L617.02 243.65L617.12 243.14L617.23 242.64L617.32 242.13L617.43 241.62L617.54 241.12L617.6 240.61L617.59 240.11L617.52 239.6L617.42 239.09L617.3 238.59L617.13 238.08L616.9 237.57L616.61 237.07L616.27 236.56L615.78 236.05L615.18 235.55L614.56 235.04L614 234.54L613.44 234.03L612.89 233.52L612.37 233.02L611.89 232.51L611.42 232L611 231.5L610.68 230.99L610.44 230.49L610.24 229.98L610.06 229.47L609.9 228.97L609.74 228.46L609.58 227.95L609.42 227.45L609.28 226.94L609.15 226.43L609.05 225.93L608.96 225.42L608.87 224.92L608.8 224.41L608.75 223.9L608.74 223.4L608.74 222.89L608.74 222.38L608.74 221.88L608.74 221.37L608.74 220.86L608.74 220.36L608.74 219.85L608.74 219.35Z" fill="#C76300" stroke="#000" stroke-width="1.05" stroke-linejoin="round"/>
<line x1="602.33" y1="244.5" x2="615.09" y2="244.5" stroke="#5a2800" stroke-width="0.6" stroke-dasharray="1.1 0.8"/>
<line x1="595.13" y1="252.5" x2="622.29" y2="252.5" stroke="#3a1c00" stroke-width="0.9"/>
<line x1="598.88" y1="259.5" x2="618.54" y2="259.5" stroke="#5a2800" stroke-width="0.6" stroke-dasharray="1.1 0.8"/>
<path d="M654.26 218.34L654.26 218.85L654.26 219.35L654.26 219.86L654.26 220.36L654.26 220.87L654.26 221.38L654.26 221.88L654.26 222.39L654.26 222.89L654.22 223.4L654.12 223.9L653.99 224.41L653.84 224.92L653.7 225.42L653.57 225.93L653.46 226.43L653.33 226.94L653.23 227.44L653.18 227.95L653.2 228.45L653.27 228.96L653.37 229.47L653.47 229.97L653.57 230.48L653.68 230.98L653.81 231.49L653.95 231.99L654.06 232.5L654.15 233.01L654.18 233.51L654.06 234.02L653.73 234.52L653.28 235.03L652.82 235.53L652.19 236.04L651.45 236.55L650.72 237.05L650.13 237.56L649.6 238.06L649.1 238.57L648.63 239.07L648.18 239.58L647.74 240.08L647.32 240.59L646.94 241.1L646.59 241.6L646.27 242.11L645.97 242.61L645.67 243.12L645.38 243.62L645.1 244.13L644.85 244.64L644.64 245.14L644.46 245.65L644.29 246.15L644.15 246.66L644.04 247.16L643.94 247.67L643.85 248.18L643.74 248.68L643.62 249.19L643.49 249.69L643.35 250.2L643.19 250.7L643 251.21L642.79 251.72L642.57 252.22L642.34 252.73L642.09 253.23L641.85 253.74L641.63 254.24L641.45 254.75L641.28 255.25L641.12 255.76L640.95 256.27L640.77 256.77L640.58 257.28L640.42 257.78L640.32 258.29L640.23 258.79L640.16 259.3L640.12 259.81L640.12 260.31L640.12 260.82L640.12 261.32L640.12 261.83L640.15 262.33L640.22 262.84L640.31 263.35L640.41 263.85L640.55 264.36L640.72 264.86L640.92 265.37L641.15 265.87L641.44 266.38L641.76 266.88L642.1 267.39L642.47 267.9L642.87 268.4L643.29 268.91L643.72 269.41L644.19 269.92L644.67 270.42L645.15 270.93L645.61 271.44L646.05 271.94L646.48 272.45L646.92 272.95L647.35 273.46L647.78 273.96L648.22 274.47L648.67 274.98L649.14 275.48L649.61 275.99L650.09 276.49L650.55 277L651.02 277.5L651.49 278.01L651.9 278.52L652.24 279.02L652.54 279.53L652.81 280.03L653.03 280.54L653.19 281.04L653.34 281.55L653.46 282.05L653.57 282.56L653.66 283.07L653.74 283.57L653.82 284.08L653.91 284.58L654.01 285.09L654.11 285.59L654.17 286.1L654.19 286.61L654.21 287.11L654.22 287.62L654.23 288.12L654.23 288.63L654.24 289.13L654.25 289.64L654.25 290.15L654.25 290.65L654.26 291.16L654.26 291.66L654.32 291.66L654.32 291.16L654.32 290.65L654.32 290.15L654.32 289.64L654.33 289.13L654.34 288.63L654.35 288.12L654.35 287.62L654.37 287.11L654.38 286.61L654.4 286.1L654.46 285.59L654.56 285.09L654.67 284.58L654.75 284.08L654.83 283.57L654.91 283.07L655 282.56L655.11 282.05L655.23 281.55L655.38 281.04L655.55 280.54L655.76 280.03L656.03 279.53L656.33 279.02L656.67 278.52L657.09 278.01L657.55 277.5L658.02 277L658.48 276.49L658.96 275.99L659.44 275.48L659.9 274.98L660.35 274.47L660.79 273.96L661.22 273.46L661.66 272.95L662.09 272.45L662.52 271.94L662.96 271.44L663.42 270.93L663.9 270.42L664.39 269.92L664.85 269.41L665.28 268.91L665.71 268.4L666.1 267.9L666.47 267.39L666.81 266.88L667.13 266.38L667.42 265.87L667.65 265.37L667.85 264.86L668.02 264.36L668.16 263.85L668.26 263.35L668.35 262.84L668.42 262.33L668.45 261.83L668.45 261.32L668.45 260.82L668.45 260.31L668.45 259.81L668.41 259.3L668.34 258.79L668.25 258.29L668.15 257.78L667.99 257.28L667.8 256.77L667.62 256.27L667.45 255.76L667.29 255.25L667.13 254.75L666.94 254.24L666.72 253.74L666.48 253.23L666.23 252.73L666 252.22L665.78 251.72L665.57 251.21L665.39 250.7L665.22 250.2L665.08 249.69L664.95 249.19L664.83 248.68L664.72 248.18L664.63 247.67L664.53 247.16L664.42 246.66L664.28 246.15L664.11 245.65L663.93 245.14L663.72 244.64L663.47 244.13L663.19 243.62L662.9 243.12L662.6 242.61L662.3 242.11L661.98 241.6L661.63 241.1L661.25 240.59L660.83 240.08L660.39 239.58L659.94 239.07L659.47 238.57L658.97 238.06L658.44 237.56L657.85 237.05L657.12 236.55L656.38 236.04L655.76 235.53L655.29 235.03L654.84 234.52L654.51 234.02L654.39 233.51L654.42 233.01L654.51 232.5L654.63 231.99L654.76 231.49L654.89 230.98L655 230.48L655.1 229.97L655.2 229.47L655.3 228.96L655.37 228.45L655.39 227.95L655.34 227.44L655.24 226.94L655.11 226.43L655 225.93L654.88 225.42L654.73 224.92L654.58 224.41L654.45 223.9L654.35 223.4L654.32 222.89L654.32 222.39L654.32 221.88L654.32 221.38L654.32 220.87L654.32 220.36L654.32 219.86L654.32 219.35L654.32 218.85L654.32 218.34Z" fill="#DFC1A9" stroke="#000" stroke-width="1.05" stroke-linejoin="round"/>
<line x1="645.44" y1="249.5" x2="663.13" y2="249.5" stroke="#333" stroke-width="0.6" stroke-dasharray="1.1 0.8" stroke-opacity="0.6"/>
<line x1="640.81" y1="257.5" x2="667.76" y2="257.5" stroke="#7a685a" stroke-width="1.4"/>
<line x1="642.88" y1="265.5" x2="665.69" y2="265.5" stroke="#333" stroke-width="0.6" stroke-dasharray="1.1 0.8" stroke-opacity="0.6"/>
</g>
<g>
<path d="M16.15 492.6 H122.95" stroke="#000" stroke-width="1.15" fill="none"/>
<path class="a" d="M16.85 386.55 V493.18"/>
<path class="k" d="M12.25 387.1 h4.6M12.25 413.48 h4.6M12.25 439.85 h4.6M12.25 466.23 h4.6M12.25 492.6 h4.6M47.05 492.6 v4.6M92.55 492.6 v4.6"/>
<text class="y" x="10.95" y="389.9" textLength="11.4" lengthAdjust="spacingAndGlyphs">0.8</text>
<text class="y" x="10.95" y="416.28" textLength="11.4" lengthAdjust="spacingAndGlyphs">0.6</text>
<text class="y" x="10.95" y="442.65" textLength="11.4" lengthAdjust="spacingAndGlyphs">0.4</text>
<text class="y" x="10.95" y="469.03" textLength="11.4" lengthAdjust="spacingAndGlyphs">0.2</text>
<text class="y" x="10.95" y="495.4" textLength="11.4" lengthAdjust="spacingAndGlyphs">0.0</text>
<text class="x" x="47.05" y="504.9" textLength="11.1" lengthAdjust="spacingAndGlyphs">HC</text>
<text class="x" x="92.55" y="504.9" textLength="20.4" lengthAdjust="spacingAndGlyphs">FCon</text>
<text class="t" x="69.25" y="372.8" textLength="62.6" lengthAdjust="spacingAndGlyphs">OrG<tspan class="u">_</tspan>L<tspan class="u">_</tspan>6<tspan class="u">_</tspan>5</text>
<path d="M46.82 411.05L46.82 411.56L46.82 412.07L46.82 412.58L46.82 413.09L46.82 413.6L46.81 414.11L46.77 414.63L46.71 415.14L46.65 415.65L46.62 416.16L46.63 416.67L46.67 417.18L46.73 417.69L46.78 418.2L46.81 418.71L46.81 419.22L46.81 419.73L46.8 420.25L46.78 420.76L46.75 421.27L46.46 421.78L45.71 422.29L44.31 422.8L42.21 423.31L40.64 423.82L39.9 424.33L39.41 424.84L39.42 425.36L39.91 425.87L40.21 426.38L39.64 426.89L38.44 427.4L37.25 427.91L35.99 428.42L34.73 428.93L34.07 429.44L34.18 429.95L34.45 430.46L34.62 430.98L34.75 431.49L34.82 432L34.51 432.51L33.92 433.02L33.49 433.53L33.11 434.04L32.78 434.55L32.62 435.06L32.62 435.57L32.62 436.09L32.62 436.6L32.8 437.11L33.34 437.62L34.07 438.13L34.97 438.64L36.33 439.15L37.85 439.66L39.2 440.17L40.36 440.68L41.49 441.19L42.54 441.71L43.49 442.22L44.29 442.73L45.05 443.24L45.78 443.75L46.37 444.26L46.71 444.77L46.76 445.28L46.79 445.79L46.81 446.3L46.81 446.82L46.81 447.33L46.76 447.84L46.68 448.35L46.58 448.86L46.5 449.37L46.44 449.88L46.43 450.39L46.5 450.9L46.61 451.41L46.72 451.92L46.8 452.44L46.82 452.95L46.82 453.46L46.82 453.97L46.82 454.48L46.82 454.99L46.88 454.99L46.88 454.48L46.88 453.97L46.88 453.46L46.88 452.95L46.89 452.44L46.97 451.92L47.08 451.41L47.19 450.9L47.26 450.39L47.25 449.88L47.19 449.37L47.11 448.86L47.01 448.35L46.93 447.84L46.88 447.33L46.88 446.82L46.89 446.3L46.9 445.79L46.93 445.28L46.98 444.77L47.32 444.26L47.91 443.75L48.64 443.24L49.4 442.73L50.2 442.22L51.15 441.71L52.2 441.19L53.33 440.68L54.49 440.17L55.84 439.66L57.36 439.15L58.72 438.64L59.62 438.13L60.35 437.62L60.89 437.11L61.07 436.6L61.07 436.09L61.07 435.57L61.07 435.06L60.91 434.55L60.59 434.04L60.2 433.53L59.77 433.02L59.18 432.51L58.88 432L58.94 431.49L59.07 430.98L59.24 430.46L59.51 429.95L59.62 429.44L58.96 428.93L57.7 428.42L56.44 427.91L55.25 427.4L54.05 426.89L53.48 426.38L53.78 425.87L54.27 425.36L54.28 424.84L53.79 424.33L53.05 423.82L51.48 423.31L49.38 422.8L47.98 422.29L47.24 421.78L46.94 421.27L46.92 420.76L46.9 420.25L46.88 419.73L46.88 419.22L46.88 418.71L46.91 418.2L46.96 417.69L47.02 417.18L47.06 416.67L47.07 416.16L47.04 415.65L46.98 415.14L46.92 414.63L46.88 414.11L46.88 413.6L46.88 413.09L46.88 412.58L46.88 412.07L46.88 411.56L46.88 411.05Z" fill="#7A00A0" stroke="#000" stroke-width="1.05" stroke-linejoin="round"/>
<line x1="35.98" y1="429.5" x2="57.71" y2="429.5" stroke="#000" stroke-width="0.6" stroke-dasharray="1.1 0.8"/>
<line x1="33.12" y1="434.5" x2="60.57" y2="434.5" stroke="#000" stroke-width="0.55"/>
<line x1="35.12" y1="437.5" x2="58.57" y2="437.5" stroke="#000" stroke-width="0.6" stroke-dasharray="1.1 0.8"/>
<path d="M92.01 401.26L92 401.77L91.99 402.27L91.98 402.78L91.97 403.29L91.96 403.8L91.95 404.31L91.94 404.82L91.94 405.33L91.93 405.84L91.92 406.35L91.92 406.86L91.92 407.37L91.91 407.88L91.91 408.39L91.91 408.9L91.9 409.41L91.9 409.92L91.9 410.43L91.9 410.94L91.89 411.45L91.89 411.96L91.88 412.47L91.88 412.98L91.87 413.49L91.86 414L91.85 414.51L91.83 415.02L91.82 415.53L91.53 416.04L90.46 416.55L89.35 417.05L88.26 417.56L87.12 418.07L86.09 418.58L85.25 419.09L84.46 419.6L83.78 420.11L83.33 420.62L83.08 421.13L82.89 421.64L82.75 422.15L82.71 422.66L82.85 423.17L83.07 423.68L83.13 424.19L82.12 424.7L80.42 425.21L79.1 425.72L78.39 426.23L77.89 426.74L77.92 427.25L78.44 427.76L78.76 428.27L78.56 428.78L78.23 429.29L78.03 429.8L77.86 430.31L77.73 430.82L77.64 431.33L77.58 431.83L77.54 432.34L77.51 432.85L77.5 433.36L77.56 433.87L77.66 434.38L77.8 434.89L77.96 435.4L78.2 435.91L78.5 436.42L78.84 436.93L79.22 437.44L79.61 437.95L80.06 438.46L80.56 438.97L81.1 439.48L81.68 439.99L82.3 440.5L83 441.01L83.75 441.52L84.53 442.03L85.31 442.54L86.09 443.05L86.9 443.56L87.72 444.07L88.52 444.58L89.27 445.09L90.04 445.6L90.88 446.11L91.55 446.61L91.82 447.12L91.86 447.63L91.89 448.14L91.92 448.65L91.94 449.16L91.96 449.67L91.98 450.18L91.99 450.69L92 451.2L92.01 451.71L92.01 452.22L92.01 452.73L92.07 452.73L92.07 452.22L92.08 451.71L92.08 451.2L92.09 450.69L92.11 450.18L92.12 449.67L92.14 449.16L92.17 448.65L92.2 448.14L92.23 447.63L92.27 447.12L92.54 446.61L93.21 446.11L94.04 445.6L94.81 445.09L95.57 444.58L96.37 444.07L97.19 443.56L98 443.05L98.77 442.54L99.56 442.03L100.34 441.52L101.09 441.01L101.79 440.5L102.41 439.99L102.99 439.48L103.53 438.97L104.03 438.46L104.48 437.95L104.87 437.44L105.24 436.93L105.59 436.42L105.89 435.91L106.12 435.4L106.28 434.89L106.42 434.38L106.53 433.87L106.58 433.36L106.58 432.85L106.55 432.34L106.5 431.83L106.45 431.33L106.36 430.82L106.23 430.31L106.06 429.8L105.85 429.29L105.52 428.78L105.33 428.27L105.65 427.76L106.17 427.25L106.19 426.74L105.7 426.23L104.99 425.72L103.67 425.21L101.97 424.7L100.96 424.19L101.02 423.68L101.23 423.17L101.37 422.66L101.33 422.15L101.2 421.64L101 421.13L100.76 420.62L100.3 420.11L99.63 419.6L98.84 419.09L98 418.58L96.96 418.07L95.83 417.56L94.74 417.05L93.63 416.55L92.56 416.04L92.27 415.53L92.25 415.02L92.24 414.51L92.23 414L92.22 413.49L92.21 412.98L92.2 412.47L92.2 411.96L92.19 411.45L92.19 410.94L92.19 410.43L92.18 409.92L92.18 409.41L92.18 408.9L92.18 408.39L92.17 407.88L92.17 407.37L92.17 406.86L92.16 406.35L92.16 405.84L92.15 405.33L92.14 404.82L92.13 404.31L92.13 403.8L92.12 403.29L92.11 402.78L92.09 402.27L92.08 401.77L92.07 401.26Z" fill="#B57FC5" stroke="#000" stroke-width="1.05" stroke-linejoin="round"/>
<line x1="80.03" y1="426.5" x2="104.06" y2="426.5" stroke="#333" stroke-width="0.6" stroke-dasharray="1.1 0.8" stroke-opacity="0.6"/>
<line x1="77.83" y1="432.5" x2="106.26" y2="432.5" stroke="#333" stroke-width="0.55"/>
<line x1="81.16" y1="437.5" x2="102.92" y2="437.5" stroke="#333" stroke-width="0.6" stroke-dasharray="1.1 0.8" stroke-opacity="0.6"/>
</g>
<g>
<path d="M203.2 492.6 H310" stroke="#000" stroke-width="1.15" fill="none"/>
<path class="a" d="M203.9 386.55 V493.18"/>
<path class="k" d="M199.3 387.1 h4.6M199.3 422.27 h4.6M199.3 457.43 h4.6M199.3 492.6 h4.6M234.1 492.6 v4.6M279.6 492.6 v4.6"/>
<text class="y" x="198" y="389.9" textLength="11.4" lengthAdjust="spacingAndGlyphs">0.8</text>
<text class="y" x="198" y="425.07" textLength="11.4" lengthAdjust="spacingAndGlyphs">0.6</text>
<text class="y" x="198" y="460.23" textLength="11.4" lengthAdjust="spacingAndGlyphs">0.4</text>
<text class="y" x="198" y="495.4" textLength="11.4" lengthAdjust="spacingAndGlyphs">0.2</text>
<text class="x" x="234.1" y="504.9" textLength="11.1" lengthAdjust="spacingAndGlyphs">HC</text>
<text class="x" x="279.6" y="504.9" textLength="20.4" lengthAdjust="spacingAndGlyphs">FCon</text>
<text class="t" x="256.3" y="372.8" textLength="62.6" lengthAdjust="spacingAndGlyphs">OrG<tspan class="u">_</tspan>R<tspan class="u">_</tspan>6<tspan class="u">_</tspan>5</text>
<path d="M234.06 420.77L234.06 421.28L234.06 421.79L234.06 422.3L234.06 422.81L234.06 423.32L234.06 423.83L234.06 424.34L234.06 424.85L234.06 425.36L234.06 425.87L234.06 426.37L234.06 426.88L234.06 427.39L234.01 427.9L233.93 428.41L233.81 428.92L233.69 429.43L233.58 429.94L233.45 430.45L233.3 430.96L233.17 431.47L233.11 431.98L233.16 432.49L233.32 433L233.52 433.51L233.69 434.02L233.79 434.53L233.88 435.04L233.95 435.54L233.99 436.05L233.87 436.56L233.55 437.07L233.12 437.58L232.3 438.09L231.04 438.6L229.81 439.11L228.87 439.62L227.98 440.13L227.28 440.64L226.87 441.15L226.56 441.66L226.46 442.17L226.98 442.68L227.64 443.19L227.46 443.7L226.42 444.21L225.27 444.71L224.51 445.22L223.8 445.73L223.36 446.24L223.25 446.75L223.2 447.26L223.22 447.77L223.77 448.28L224.3 448.79L224.29 449.3L224.18 449.81L224.02 450.32L223.7 450.83L222.94 451.34L222.05 451.85L221.39 452.36L220.82 452.87L220.36 453.38L220.07 453.88L219.84 454.39L219.7 454.9L219.73 455.41L220.12 455.92L220.68 456.43L221.51 456.94L222.64 457.45L223.75 457.96L224.68 458.47L225.55 458.98L226.38 459.49L227.16 460L227.9 460.51L228.59 461.02L229.24 461.53L229.83 462.04L230.36 462.54L230.86 463.05L231.34 463.56L231.82 464.07L232.3 464.58L232.75 465.09L233.11 465.6L233.43 466.11L233.72 466.62L233.93 467.13L233.99 467.64L234.02 468.15L234.04 468.66L234.05 469.17L234.06 469.68L234.06 470.19L234.06 470.7L234.06 471.21L234.06 471.71L234.06 472.22L234.06 472.73L234.06 473.24L234.06 473.75L234.12 473.75L234.12 473.24L234.12 472.73L234.12 472.22L234.12 471.71L234.12 471.21L234.12 470.7L234.12 470.19L234.12 469.68L234.13 469.17L234.14 468.66L234.16 468.15L234.18 467.64L234.25 467.13L234.46 466.62L234.75 466.11L235.06 465.6L235.43 465.09L235.87 464.58L236.36 464.07L236.84 463.56L237.31 463.05L237.81 462.54L238.35 462.04L238.94 461.53L239.58 461.02L240.28 460.51L241.01 460L241.79 459.49L242.62 458.98L243.5 458.47L244.42 457.96L245.53 457.45L246.66 456.94L247.49 456.43L248.06 455.92L248.45 455.41L248.48 454.9L248.34 454.39L248.11 453.88L247.82 453.38L247.35 452.87L246.78 452.36L246.12 451.85L245.24 451.34L244.47 450.83L244.16 450.32L243.99 449.81L243.89 449.3L243.88 448.79L244.4 448.28L244.95 447.77L244.97 447.26L244.92 446.75L244.82 446.24L244.37 445.73L243.67 445.22L242.9 444.71L241.75 444.21L240.72 443.7L240.54 443.19L241.19 442.68L241.72 442.17L241.61 441.66L241.31 441.15L240.9 440.64L240.2 440.13L239.31 439.62L238.36 439.11L237.14 438.6L235.88 438.09L235.06 437.58L234.62 437.07L234.3 436.56L234.19 436.05L234.22 435.54L234.29 435.04L234.38 434.53L234.48 434.02L234.66 433.51L234.86 433L235.02 432.49L235.07 431.98L235.01 431.47L234.88 430.96L234.73 430.45L234.6 429.94L234.49 429.43L234.36 428.92L234.25 428.41L234.16 427.9L234.12 427.39L234.12 426.88L234.12 426.37L234.12 425.87L234.12 425.36L234.12 424.85L234.12 424.34L234.12 423.83L234.12 423.32L234.12 422.81L234.12 422.3L234.12 421.79L234.12 421.28L234.12 420.77Z" fill="#7A00A0" stroke="#000" stroke-width="1.05" stroke-linejoin="round"/>
<line x1="225.21" y1="446.5" x2="242.97" y2="446.5" stroke="#2a0040" stroke-width="0.6" stroke-dasharray="1.1 0.8"/>
<line x1="221.53" y1="452.5" x2="246.65" y2="452.5" stroke="#000" stroke-width="0.55"/>
<line x1="222.69" y1="456.5" x2="245.48" y2="456.5" stroke="#2a0040" stroke-width="0.6" stroke-dasharray="1.1 0.8"/>
<path d="M279.51 404.7L279.51 405.21L279.51 405.71L279.51 406.21L279.51 406.72L279.51 407.22L279.51 407.73L279.51 408.23L279.51 408.74L279.51 409.24L279.51 409.75L279.5 410.25L279.5 410.76L279.5 411.26L279.5 411.77L279.5 412.27L279.49 412.78L279.49 413.28L279.48 413.79L279.48 414.29L279.47 414.8L279.47 415.3L279.46 415.81L279.45 416.31L279.44 416.82L279.43 417.32L279.42 417.83L279.41 418.33L279.4 418.83L279.38 419.34L279.37 419.84L279.35 420.35L279.34 420.85L279.32 421.36L279.3 421.86L279.28 422.37L279.26 422.87L279.24 423.38L279.21 423.88L279.19 424.39L279.16 424.89L279.14 425.4L279.03 425.9L278.82 426.41L278.56 426.91L278.19 427.42L277.74 427.92L277.25 428.43L276.73 428.93L276.12 429.44L275.5 429.94L274.92 430.45L274.37 430.95L273.84 431.45L273.35 431.96L272.93 432.46L272.49 432.97L272.1 433.47L271.84 433.98L271.76 434.48L271.73 434.99L271.71 435.49L271.67 436L271.6 436.5L271.47 437.01L271.32 437.51L271.14 438.02L270.87 438.52L270.53 439.03L270.28 439.53L270.23 440.04L270.31 440.54L270.44 441.05L270.52 441.55L270.48 442.06L270.28 442.56L270.04 443.06L269.91 443.57L269.9 444.07L269.9 444.58L269.9 445.08L269.9 445.59L269.77 446.09L269.5 446.6L269.16 447.1L268.78 447.61L268.23 448.11L267.59 448.62L267.02 449.12L266.59 449.63L266.19 450.13L265.85 450.64L265.64 451.14L265.51 451.65L265.41 452.15L265.34 452.66L265.32 453.16L265.37 453.67L265.46 454.17L265.58 454.68L265.71 455.18L265.89 455.68L266.12 456.19L266.39 456.69L266.71 457.2L267.11 457.7L267.56 458.21L268.05 458.71L268.59 459.22L269.19 459.72L269.81 460.23L270.41 460.73L270.99 461.24L271.58 461.74L272.17 462.25L272.77 462.75L273.4 463.26L274.02 463.76L274.6 464.27L275.13 464.77L275.62 465.28L276.1 465.78L276.55 466.29L277.01 466.79L277.45 467.3L277.85 467.8L278.2 468.3L278.51 468.81L278.79 469.31L279.01 469.82L279.15 470.32L279.28 470.83L279.39 471.33L279.47 471.84L279.5 472.34L279.51 472.85L279.51 473.35L279.51 473.86L279.51 474.36L279.51 474.87L279.51 475.37L279.51 475.88L279.51 476.38L279.51 476.89L279.51 477.39L279.51 477.9L279.57 477.9L279.57 477.39L279.57 476.89L279.57 476.38L279.57 475.88L279.57 475.37L279.57 474.87L279.57 474.36L279.57 473.86L279.57 473.35L279.57 472.85L279.57 472.34L279.61 471.84L279.69 471.33L279.8 470.83L279.92 470.32L280.07 469.82L280.28 469.31L280.56 468.81L280.88 468.3L281.22 467.8L281.62 467.3L282.06 466.79L282.52 466.29L282.98 465.78L283.45 465.28L283.95 464.77L284.47 464.27L285.05 463.76L285.67 463.26L286.3 462.75L286.9 462.25L287.49 461.74L288.08 461.24L288.67 460.73L289.26 460.23L289.88 459.72L290.49 459.22L291.03 458.71L291.51 458.21L291.97 457.7L292.37 457.2L292.68 456.69L292.95 456.19L293.18 455.68L293.37 455.18L293.5 454.68L293.61 454.17L293.7 453.67L293.75 453.16L293.74 452.66L293.67 452.15L293.56 451.65L293.43 451.14L293.22 450.64L292.88 450.13L292.48 449.63L292.05 449.12L291.48 448.62L290.84 448.11L290.29 447.61L289.91 447.1L289.57 446.6L289.3 446.09L289.17 445.59L289.17 445.08L289.17 444.58L289.17 444.07L289.17 443.57L289.04 443.06L288.8 442.56L288.59 442.06L288.55 441.55L288.64 441.05L288.76 440.54L288.85 440.04L288.8 439.53L288.54 439.03L288.2 438.52L287.93 438.02L287.76 437.51L287.6 437.01L287.48 436.5L287.4 436L287.37 435.49L287.35 434.99L287.31 434.48L287.23 433.98L286.97 433.47L286.58 432.97L286.15 432.46L285.72 431.96L285.23 431.45L284.7 430.95L284.16 430.45L283.57 429.94L282.95 429.44L282.35 428.93L281.82 428.43L281.33 427.92L280.88 427.42L280.51 426.91L280.25 426.41L280.04 425.9L279.94 425.4L279.91 424.89L279.88 424.39L279.86 423.88L279.84 423.38L279.81 422.87L279.79 422.37L279.77 421.86L279.75 421.36L279.74 420.85L279.72 420.35L279.71 419.84L279.69 419.34L279.68 418.83L279.67 418.33L279.65 417.83L279.64 417.32L279.63 416.82L279.62 416.31L279.62 415.81L279.61 415.3L279.6 414.8L279.6 414.29L279.59 413.79L279.59 413.28L279.58 412.78L279.58 412.27L279.57 411.77L279.57 411.26L279.57 410.76L279.57 410.25L279.57 409.75L279.57 409.24L279.57 408.74L279.57 408.23L279.57 407.73L279.57 407.22L279.57 406.72L279.57 406.21L279.57 405.71L279.57 405.21L279.57 404.7Z" fill="#B57FC5" stroke="#000" stroke-width="1.45" stroke-linejoin="round"/>
<line x1="272.2" y1="442.5" x2="286.87" y2="442.5" stroke="#333" stroke-width="0.6" stroke-dasharray="1.1 0.8" stroke-opacity="0.6"/>
<line x1="265.85" y1="451.5" x2="293.23" y2="451.5" stroke="#333" stroke-width="0.55"/>
<line x1="268.19" y1="456.5" x2="290.89" y2="456.5" stroke="#333" stroke-width="0.6" stroke-dasharray="1.1 0.8" stroke-opacity="0.6"/>
</g>
<g>
<path d="M390.7 492.6 H497.5" stroke="#000" stroke-width="1.15" fill="none"/>
<path class="a" d="M391.4 386.55 V493.18"/>
<path class="k" d="M386.8 387.1 h4.6M386.8 417.24 h4.6M386.8 447.39 h4.6M386.8 477.53 h4.6M421.6 492.6 v4.6M467.1 492.6 v4.6"/>
<text class="y" x="385.5" y="389.9" textLength="11.4" lengthAdjust="spacingAndGlyphs">0.5</text>
<text class="y" x="385.5" y="420.04" textLength="11.4" lengthAdjust="spacingAndGlyphs">0.4</text>
<text class="y" x="385.5" y="450.19" textLength="11.4" lengthAdjust="spacingAndGlyphs">0.3</text>
<text class="y" x="385.5" y="480.33" textLength="11.4" lengthAdjust="spacingAndGlyphs">0.2</text>
<text class="x" x="421.6" y="504.9" textLength="11.1" lengthAdjust="spacingAndGlyphs">HC</text>
<text class="x" x="467.1" y="504.9" textLength="20.4" lengthAdjust="spacingAndGlyphs">FCon</text>
<text class="t" x="443.8" y="372.8" textLength="62.6" lengthAdjust="spacingAndGlyphs">OrG<tspan class="u">_</tspan>L<tspan class="u">_</tspan>6<tspan class="u">_</tspan>6</text>
<path d="M421.43 402.98L421.43 403.49L421.43 404L421.43 404.5L421.43 405.01L421.43 405.52L421.43 406.02L421.43 406.53L421.43 407.03L421.4 407.54L421.31 408.05L421.18 408.55L421.04 409.06L420.9 409.57L420.78 410.07L420.69 410.58L420.65 411.09L420.61 411.59L420.57 412.1L420.54 412.61L420.52 413.11L420.5 413.62L420.49 414.13L420.48 414.63L420.48 415.14L420.48 415.65L420.48 416.15L420.48 416.66L420.48 417.17L420.48 417.67L420.48 418.18L420.48 418.69L420.48 419.19L420.47 419.7L420.47 420.21L420.46 420.71L420.45 421.22L420.43 421.73L420.41 422.23L420.35 422.74L420.23 423.24L420.06 423.75L419.76 424.26L419.07 424.76L418.21 425.27L417.42 425.78L416.6 426.28L415.8 426.79L415.15 427.3L414.59 427.8L414.09 428.31L413.64 428.82L413.24 429.32L412.86 429.83L412.53 430.34L412.26 430.84L412.05 431.35L411.87 431.86L411.72 432.36L411.6 432.87L411.49 433.38L411.39 433.88L411.33 434.39L411.33 434.9L411.36 435.4L411.41 435.91L411.44 436.42L411.44 436.92L411.44 437.43L411.44 437.93L411.44 438.44L411.39 438.95L411.26 439.45L411.1 439.96L410.94 440.47L410.71 440.97L410.45 441.48L410.16 441.99L409.85 442.49L409.51 443L409.16 443.51L408.82 444.01L408.52 444.52L408.22 445.03L407.94 445.53L407.68 446.04L407.39 446.55L407.15 447.05L407.03 447.56L406.98 448.07L406.94 448.57L406.92 449.08L407.13 449.59L407.55 450.09L408 450.6L408.57 451.11L409.25 451.61L410.04 452.12L411.1 452.62L412.24 453.13L413.22 453.64L414.06 454.14L414.85 454.65L415.63 455.16L416.41 455.66L417.21 456.17L417.98 456.68L418.68 457.18L419.34 457.69L419.97 458.2L420.41 458.7L420.69 459.21L420.92 459.72L421.04 460.22L421.03 460.73L420.98 461.24L420.9 461.74L420.84 462.25L420.8 462.76L420.81 463.26L420.84 463.77L420.89 464.28L420.95 464.78L421.02 465.29L421.09 465.8L421.15 466.3L421.23 466.81L421.31 467.32L421.38 467.82L421.42 468.33L421.43 468.83L421.43 469.34L421.43 469.85L421.43 470.35L421.43 470.86L421.43 471.37L421.43 471.87L421.43 472.38L421.43 472.89L421.43 473.39L421.43 473.9L421.43 474.41L421.43 474.91L421.43 475.42L421.43 475.93L421.49 475.93L421.49 475.42L421.49 474.91L421.49 474.41L421.5 473.9L421.5 473.39L421.5 472.89L421.5 472.38L421.5 471.87L421.5 471.37L421.5 470.86L421.5 470.35L421.5 469.85L421.5 469.34L421.5 468.83L421.51 468.33L421.55 467.82L421.62 467.32L421.7 466.81L421.78 466.3L421.84 465.8L421.91 465.29L421.98 464.78L422.04 464.28L422.09 463.77L422.12 463.26L422.13 462.76L422.09 462.25L422.03 461.74L421.95 461.24L421.9 460.73L421.89 460.22L422.01 459.72L422.24 459.21L422.52 458.7L422.96 458.2L423.58 457.69L424.25 457.18L424.95 456.68L425.72 456.17L426.52 455.66L427.3 455.16L428.08 454.65L428.87 454.14L429.71 453.64L430.69 453.13L431.83 452.62L432.89 452.12L433.68 451.61L434.36 451.11L434.93 450.6L435.38 450.09L435.8 449.59L436.01 449.08L435.99 448.57L435.95 448.07L435.9 447.56L435.78 447.05L435.54 446.55L435.25 446.04L434.99 445.53L434.71 445.03L434.41 444.52L434.11 444.01L433.77 443.51L433.42 443L433.07 442.49L432.77 441.99L432.48 441.48L432.21 440.97L431.99 440.47L431.82 439.96L431.67 439.45L431.54 438.95L431.49 438.44L431.49 437.93L431.49 437.43L431.49 436.92L431.49 436.42L431.52 435.91L431.56 435.4L431.6 434.9L431.6 434.39L431.54 433.88L431.44 433.38L431.33 432.87L431.21 432.36L431.06 431.86L430.88 431.35L430.66 430.84L430.4 430.34L430.07 429.83L429.69 429.32L429.29 428.82L428.84 428.31L428.34 427.8L427.78 427.3L427.13 426.79L426.33 426.28L425.51 425.78L424.72 425.27L423.86 424.76L423.17 424.26L422.87 423.75L422.7 423.24L422.58 422.74L422.52 422.23L422.5 421.73L422.48 421.22L422.47 420.71L422.46 420.21L422.45 419.7L422.45 419.19L422.45 418.69L422.45 418.18L422.45 417.67L422.45 417.17L422.45 416.66L422.45 416.15L422.45 415.65L422.45 415.14L422.45 414.63L422.44 414.13L422.43 413.62L422.41 413.11L422.39 412.61L422.36 412.1L422.32 411.59L422.28 411.09L422.24 410.58L422.15 410.07L422.03 409.57L421.89 409.06L421.75 408.55L421.62 408.05L421.53 407.54L421.49 407.03L421.49 406.53L421.49 406.02L421.49 405.52L421.49 405.01L421.49 404.5L421.49 404L421.49 403.49L421.49 402.98Z" fill="#808000" stroke="#000" stroke-width="1.05" stroke-linejoin="round"/>
<line x1="413.23" y1="434.5" x2="429.7" y2="434.5" stroke="#3a3a00" stroke-width="0.6" stroke-dasharray="1.1 0.8"/>
<line x1="410.15" y1="442.5" x2="432.78" y2="442.5" stroke="#202000" stroke-width="0.55"/>
<line x1="408.99" y1="449.5" x2="433.94" y2="449.5" stroke="#3a3a00" stroke-width="0.6" stroke-dasharray="1.1 0.8"/>
<path d="M466.63 401.73L466.63 402.23L466.63 402.74L466.63 403.24L466.63 403.75L466.63 404.25L466.63 404.76L466.63 405.27L466.63 405.77L466.63 406.28L466.63 406.78L466.63 407.29L466.63 407.79L466.63 408.3L466.57 408.8L466.43 409.31L466.25 409.82L466.04 410.32L465.74 410.83L465.37 411.33L464.99 411.84L464.64 412.34L464.28 412.85L463.94 413.35L463.63 413.86L463.36 414.37L463.09 414.87L462.88 415.38L462.78 415.88L462.73 416.39L462.69 416.89L462.67 417.4L462.68 417.91L462.8 418.41L462.94 418.92L463.04 419.42L463 419.93L462.83 420.43L462.59 420.94L462.35 421.44L462.12 421.95L461.87 422.46L461.6 422.96L461.34 423.47L461.07 423.97L460.79 424.48L460.52 424.98L460.26 425.49L460.01 425.99L459.75 426.5L459.51 427.01L459.26 427.51L459.02 428.02L458.78 428.52L458.56 429.03L458.36 429.53L458.18 430.04L458 430.54L457.83 431.05L457.68 431.56L457.54 432.06L457.39 432.57L457.22 433.07L457.03 433.58L456.83 434.08L456.65 434.59L456.5 435.09L456.36 435.6L456.21 436.11L456.03 436.61L455.81 437.12L455.55 437.62L455.28 438.13L455 438.63L454.69 439.14L454.37 439.64L454.07 440.15L453.79 440.66L453.53 441.16L453.27 441.67L453.06 442.17L452.83 442.68L452.64 443.18L452.56 443.69L452.69 444.19L452.94 444.7L453.16 445.21L453.29 445.71L453.39 446.22L453.48 446.72L453.58 447.23L453.69 447.73L453.81 448.24L453.93 448.74L454.05 449.25L454.16 449.76L454.27 450.26L454.39 450.77L454.55 451.27L454.75 451.78L454.99 452.28L455.24 452.79L455.53 453.29L455.87 453.8L456.23 454.31L456.59 454.81L456.95 455.32L457.31 455.82L457.69 456.33L458.09 456.83L458.5 457.34L458.93 457.84L459.36 458.35L459.79 458.86L460.23 459.36L460.67 459.87L461.11 460.37L461.57 460.88L462.03 461.38L462.48 461.89L462.93 462.4L463.36 462.9L463.79 463.41L464.2 463.91L464.58 464.42L464.94 464.92L465.27 465.43L465.58 465.93L465.87 466.44L466.18 466.95L466.41 467.45L466.5 467.96L466.52 468.46L466.53 468.97L466.55 469.47L466.56 469.98L466.57 470.48L466.58 470.99L466.59 471.5L466.6 472L466.61 472.51L466.61 473.01L466.62 473.52L466.62 474.02L466.63 474.53L466.63 475.03L466.63 475.54L466.63 476.05L466.63 476.55L466.63 477.06L466.69 477.06L466.69 476.55L466.69 476.05L466.69 475.54L466.7 475.03L466.7 474.53L466.7 474.02L466.71 473.52L466.71 473.01L466.72 472.51L466.73 472L466.73 471.5L466.74 470.99L466.75 470.48L466.76 469.98L466.78 469.47L466.79 468.97L466.81 468.46L466.83 467.96L466.92 467.45L467.15 466.95L467.45 466.44L467.75 465.93L468.05 465.43L468.39 464.92L468.75 464.42L469.12 463.91L469.53 463.41L469.96 462.9L470.4 462.4L470.84 461.89L471.3 461.38L471.76 460.88L472.21 460.37L472.66 459.87L473.1 459.36L473.53 458.86L473.96 458.35L474.4 457.84L474.82 457.34L475.24 456.83L475.63 456.33L476.01 455.82L476.38 455.32L476.74 454.81L477.09 454.31L477.45 453.8L477.79 453.29L478.08 452.79L478.34 452.28L478.57 451.78L478.77 451.27L478.93 450.77L479.06 450.26L479.17 449.76L479.28 449.25L479.39 448.74L479.51 448.24L479.63 447.73L479.75 447.23L479.85 446.72L479.94 446.22L480.04 445.71L480.16 445.21L480.39 444.7L480.64 444.19L480.76 443.69L480.69 443.18L480.49 442.68L480.27 442.17L480.05 441.67L479.8 441.16L479.53 440.66L479.25 440.15L478.95 439.64L478.64 439.14L478.33 438.63L478.05 438.13L477.77 437.62L477.51 437.12L477.29 436.61L477.11 436.11L476.97 435.6L476.83 435.09L476.67 434.59L476.49 434.08L476.3 433.58L476.11 433.07L475.94 432.57L475.79 432.06L475.64 431.56L475.49 431.05L475.32 430.54L475.15 430.04L474.96 429.53L474.76 429.03L474.54 428.52L474.31 428.02L474.06 427.51L473.82 427.01L473.57 426.5L473.32 425.99L473.06 425.49L472.8 424.98L472.53 424.48L472.26 423.97L471.99 423.47L471.72 422.96L471.46 422.46L471.2 421.95L470.97 421.44L470.74 420.94L470.5 420.43L470.33 419.93L470.29 419.42L470.38 418.92L470.53 418.41L470.64 417.91L470.65 417.4L470.63 416.89L470.59 416.39L470.54 415.88L470.44 415.38L470.23 414.87L469.97 414.37L469.69 413.86L469.39 413.35L469.04 412.85L468.68 412.34L468.33 411.84L467.96 411.33L467.59 410.83L467.28 410.32L467.08 409.82L466.89 409.31L466.75 408.8L466.69 408.3L466.69 407.79L466.69 407.29L466.69 406.78L466.69 406.28L466.69 405.77L466.69 405.27L466.69 404.76L466.69 404.25L466.69 403.75L466.69 403.24L466.69 402.74L466.69 402.23L466.69 401.73Z" fill="#D9D799" stroke="#000" stroke-width="1.05" stroke-linejoin="round"/>
<line x1="459.6" y1="431.5" x2="473.73" y2="431.5" stroke="#333" stroke-width="0.6" stroke-dasharray="1.1 0.8" stroke-opacity="0.6"/>
<line x1="452.89" y1="443.5" x2="480.43" y2="443.5" stroke="#4a4a30" stroke-width="1.2"/>
<line x1="456.54" y1="451.5" x2="476.78" y2="451.5" stroke="#333" stroke-width="0.6" stroke-dasharray="1.1 0.8" stroke-opacity="0.6"/>
</g>
<g>
<path d="M578.1 492.6 H684.9" stroke="#000" stroke-width="1.15" fill="none"/>
<path class="a" d="M578.8 386.55 V493.18"/>
<path class="k" d="M574.2 387.1 h4.6M574.2 410.54 h4.6M574.2 433.99 h4.6M574.2 457.43 h4.6M574.2 480.88 h4.6M609 492.6 v4.6M654.5 492.6 v4.6"/>
<text class="y" x="572.9" y="389.9" textLength="11.4" lengthAdjust="spacingAndGlyphs">0.6</text>
<text class="y" x="572.9" y="413.34" textLength="11.4" lengthAdjust="spacingAndGlyphs">0.5</text>
<text class="y" x="572.9" y="436.79" textLength="11.4" lengthAdjust="spacingAndGlyphs">0.4</text>
<text class="y" x="572.9" y="460.23" textLength="11.4" lengthAdjust="spacingAndGlyphs">0.3</text>
<text class="y" x="572.9" y="483.68" textLength="11.4" lengthAdjust="spacingAndGlyphs">0.2</text>
<text class="x" x="609" y="504.9" textLength="11.1" lengthAdjust="spacingAndGlyphs">HC</text>
<text class="x" x="654.5" y="504.9" textLength="20.4" lengthAdjust="spacingAndGlyphs">FCon</text>
<text class="t" x="631.2" y="372.8" textLength="62.6" lengthAdjust="spacingAndGlyphs">OrG<tspan class="u">_</tspan>R<tspan class="u">_</tspan>6<tspan class="u">_</tspan>6</text>
<path d="M608.68 411.37L608.68 411.88L608.68 412.38L608.68 412.88L608.68 413.39L608.68 413.89L608.68 414.4L608.68 414.9L608.67 415.41L608.66 415.91L608.64 416.41L608.62 416.92L608.59 417.42L608.57 417.93L608.54 418.43L608.5 418.94L608.45 419.44L608.38 419.94L608.31 420.45L608.23 420.95L608.15 421.46L608.06 421.96L607.96 422.46L607.85 422.97L607.72 423.47L607.56 423.98L607.38 424.48L607.11 424.99L606.72 425.49L606.33 425.99L606.08 426.5L605.91 427L605.76 427.51L605.68 428.01L605.66 428.52L605.7 429.02L605.75 429.52L605.78 430.03L605.74 430.53L605.57 431.04L605.35 431.54L605.17 432.04L605.07 432.55L604.99 433.05L604.92 433.56L604.82 434.06L604.71 434.57L604.57 435.07L604.4 435.57L604.14 436.08L603.66 436.58L603.03 437.09L602.38 437.59L601.76 438.1L601.1 438.6L600.5 439.1L600.07 439.61L599.7 440.11L599.44 440.62L599.35 441.12L599.3 441.62L599.27 442.13L599.26 442.63L599.3 443.14L599.46 443.64L599.66 444.15L599.82 444.65L599.96 445.15L600.08 445.66L600.13 446.16L599.9 446.67L599.36 447.17L598.7 447.68L597.9 448.18L596.82 448.68L595.87 449.19L595.23 449.69L594.7 450.2L594.48 450.7L594.48 451.2L594.54 451.71L595.21 452.21L596.21 452.72L597.24 453.22L598.49 453.73L599.71 454.23L600.7 454.73L601.6 455.24L602.38 455.74L603.01 456.25L603.56 456.75L604.04 457.25L604.47 457.76L604.86 458.26L605.21 458.77L605.52 459.27L605.82 459.78L606.12 460.28L606.4 460.78L606.65 461.29L606.87 461.79L607.04 462.3L607.2 462.8L607.36 463.31L607.53 463.81L607.71 464.31L607.89 464.82L608.03 465.32L608.16 465.83L608.28 466.33L608.39 466.83L608.48 467.34L608.54 467.84L608.59 468.35L608.62 468.85L608.65 469.36L608.67 469.86L608.68 470.36L608.68 470.87L608.68 471.37L608.68 471.88L608.68 472.38L608.68 472.89L608.68 473.39L608.68 473.89L608.68 474.4L608.74 474.4L608.74 473.89L608.74 473.39L608.74 472.89L608.74 472.38L608.74 471.88L608.74 471.37L608.74 470.87L608.74 470.36L608.75 469.86L608.77 469.36L608.8 468.85L608.84 468.35L608.88 467.84L608.94 467.34L609.03 466.83L609.14 466.33L609.26 465.83L609.39 465.32L609.54 464.82L609.71 464.31L609.89 463.81L610.06 463.31L610.22 462.8L610.38 462.3L610.56 461.79L610.77 461.29L611.02 460.78L611.3 460.28L611.6 459.78L611.9 459.27L612.22 458.77L612.56 458.26L612.95 457.76L613.38 457.25L613.86 456.75L614.41 456.25L615.04 455.74L615.82 455.24L616.72 454.73L617.72 454.23L618.93 453.73L620.18 453.22L621.22 452.72L622.21 452.21L622.89 451.71L622.94 451.2L622.94 450.7L622.73 450.2L622.19 449.69L621.55 449.19L620.6 448.68L619.53 448.18L618.72 447.68L618.06 447.17L617.52 446.67L617.29 446.16L617.34 445.66L617.46 445.15L617.6 444.65L617.77 444.15L617.97 443.64L618.12 443.14L618.17 442.63L618.15 442.13L618.12 441.62L618.07 441.12L617.98 440.62L617.72 440.11L617.35 439.61L616.92 439.1L616.32 438.6L615.66 438.1L615.04 437.59L614.4 437.09L613.77 436.58L613.28 436.08L613.02 435.57L612.85 435.07L612.71 434.57L612.6 434.06L612.5 433.56L612.43 433.05L612.35 432.55L612.26 432.04L612.08 431.54L611.85 431.04L611.68 430.53L611.64 430.03L611.68 429.52L611.73 429.02L611.76 428.52L611.75 428.01L611.66 427.51L611.52 427L611.35 426.5L611.09 425.99L610.7 425.49L610.31 424.99L610.04 424.48L609.86 423.98L609.7 423.47L609.57 422.97L609.46 422.46L609.36 421.96L609.27 421.46L609.19 420.95L609.11 420.45L609.04 419.94L608.98 419.44L608.93 418.94L608.89 418.43L608.86 417.93L608.83 417.42L608.81 416.92L608.78 416.41L608.76 415.91L608.75 415.41L608.74 414.9L608.74 414.4L608.74 413.89L608.74 413.39L608.74 412.88L608.74 412.38L608.74 411.88L608.74 411.37Z" fill="#808000" stroke="#000" stroke-width="1.05" stroke-linejoin="round"/>
<line x1="601.4" y1="440.5" x2="616.02" y2="440.5" stroke="#3a3a00" stroke-width="0.6" stroke-dasharray="1.1 0.8"/>
<line x1="600.28" y1="446.5" x2="617.14" y2="446.5" stroke="#202000" stroke-width="0.55"/>
<line x1="596.41" y1="451.5" x2="621.01" y2="451.5" stroke="#3a3a00" stroke-width="0.6" stroke-dasharray="1.1 0.8"/>
<path d="M654 392.16L654 392.67L654 393.17L654 393.67L654 394.18L654 394.68L654 395.19L654 395.69L654 396.19L653.99 396.7L653.92 397.2L653.84 397.71L653.76 398.21L653.66 398.71L653.58 399.22L653.56 399.72L653.62 400.22L653.73 400.73L653.81 401.23L653.88 401.74L653.94 402.24L653.99 402.74L654 403.25L654 403.75L654 404.25L654 404.76L654 405.26L654 405.77L654 406.27L654 406.77L654 407.28L654 407.78L654 408.29L654 408.79L654 409.29L654 409.8L654 410.3L654 410.8L654 411.31L654 411.81L654 412.32L654 412.82L654 413.32L654 413.83L654 414.33L654 414.83L654 415.34L654 415.84L653.85 416.35L653.58 416.85L653.29 417.35L652.9 417.86L652.52 418.36L652.25 418.86L652.1 419.37L651.97 419.87L651.88 420.38L651.86 420.88L651.9 421.38L651.98 421.89L652.04 422.39L652.03 422.9L651.85 423.4L651.58 423.9L651.3 424.41L651.05 424.91L650.77 425.41L650.52 425.92L650.36 426.42L650.28 426.93L650.22 427.43L650.18 427.93L650.17 428.44L650.3 428.94L650.55 429.44L650.84 429.95L651.14 430.45L651.56 430.96L651.98 431.46L652.23 431.96L652.24 432.47L652.24 432.97L652.24 433.48L652.03 433.98L651.3 434.48L650.32 434.99L649.27 435.49L647.84 435.99L646.42 436.5L645.39 437L644.53 437.51L643.8 438.01L643.23 438.51L642.77 439.02L642.37 439.52L642.02 440.02L641.7 440.53L641.4 441.03L641.14 441.54L640.91 442.04L640.73 442.54L640.57 443.05L640.43 443.55L640.3 444.06L640.17 444.56L640.04 445.06L639.95 445.57L639.93 446.07L639.95 446.57L639.99 447.08L640.13 447.58L640.46 448.09L640.83 448.59L641.19 449.09L641.61 449.6L642 450.1L642.32 450.6L642.62 451.11L642.89 451.61L643.11 452.12L643.29 452.62L643.43 453.12L643.57 453.63L643.72 454.13L643.89 454.64L644.06 455.14L644.26 455.64L644.49 456.15L644.79 456.65L645.13 457.15L645.51 457.66L645.93 458.16L646.41 458.67L646.92 459.17L647.43 459.67L647.94 460.18L648.45 460.68L648.98 461.18L649.52 461.69L650.08 462.19L650.66 462.7L651.24 463.2L651.81 463.7L652.39 464.21L652.94 464.71L653.38 465.22L653.8 465.72L654 466.22L654 466.73L654 467.23L654 467.73L654 468.24L654 468.74L654 469.25L654 469.75L654 470.25L654 470.76L654.06 470.76L654.06 470.25L654.06 469.75L654.06 469.25L654.06 468.74L654.06 468.24L654.06 467.73L654.06 467.23L654.06 466.73L654.06 466.22L654.27 465.72L654.69 465.22L655.13 464.71L655.68 464.21L656.26 463.7L656.83 463.2L657.41 462.7L657.99 462.19L658.55 461.69L659.09 461.18L659.62 460.68L660.13 460.18L660.64 459.67L661.15 459.17L661.66 458.67L662.14 458.16L662.55 457.66L662.93 457.15L663.28 456.65L663.58 456.15L663.81 455.64L664.01 455.14L664.18 454.64L664.35 454.13L664.5 453.63L664.64 453.12L664.78 452.62L664.96 452.12L665.18 451.61L665.45 451.11L665.74 450.6L666.07 450.1L666.46 449.6L666.87 449.09L667.24 448.59L667.61 448.09L667.94 447.58L668.08 447.08L668.12 446.57L668.13 446.07L668.12 445.57L668.03 445.06L667.9 444.56L667.77 444.06L667.64 443.55L667.5 443.05L667.34 442.54L667.16 442.04L666.93 441.54L666.67 441.03L666.37 440.53L666.04 440.02L665.7 439.52L665.3 439.02L664.84 438.51L664.26 438.01L663.54 437.51L662.68 437L661.65 436.5L660.23 435.99L658.8 435.49L657.75 434.99L656.77 434.48L656.04 433.98L655.83 433.48L655.83 432.97L655.83 432.47L655.84 431.96L656.08 431.46L656.5 430.96L656.93 430.45L657.23 429.95L657.52 429.44L657.77 428.94L657.9 428.44L657.89 427.93L657.85 427.43L657.79 426.93L657.71 426.42L657.55 425.92L657.3 425.41L657.01 424.91L656.77 424.41L656.49 423.9L656.21 423.4L656.04 422.9L656.03 422.39L656.09 421.89L656.16 421.38L656.21 420.88L656.18 420.38L656.1 419.87L655.97 419.37L655.82 418.86L655.55 418.36L655.16 417.86L654.78 417.35L654.49 416.85L654.22 416.35L654.07 415.84L654.06 415.34L654.06 414.83L654.06 414.33L654.06 413.83L654.06 413.32L654.06 412.82L654.06 412.32L654.06 411.81L654.06 411.31L654.06 410.8L654.06 410.3L654.06 409.8L654.06 409.29L654.06 408.79L654.06 408.29L654.06 407.78L654.06 407.28L654.06 406.77L654.06 406.27L654.06 405.77L654.06 405.26L654.06 404.76L654.06 404.25L654.06 403.75L654.06 403.25L654.08 402.74L654.13 402.24L654.19 401.74L654.26 401.23L654.34 400.73L654.44 400.22L654.51 399.72L654.49 399.22L654.41 398.71L654.31 398.21L654.23 397.71L654.15 397.2L654.08 396.7L654.06 396.19L654.06 395.69L654.06 395.19L654.06 394.68L654.06 394.18L654.06 393.67L654.06 393.17L654.06 392.67L654.06 392.16Z" fill="#D9D799" stroke="#000" stroke-width="1.05" stroke-linejoin="round"/>
<line x1="643.62" y1="440.5" x2="664.45" y2="440.5" stroke="#333" stroke-width="0.6" stroke-dasharray="1.1 0.8" stroke-opacity="0.6"/>
<line x1="640.25" y1="446.5" x2="667.82" y2="446.5" stroke="#6a6a48" stroke-width="1.4"/>
<line x1="645.43" y1="453.5" x2="662.64" y2="453.5" stroke="#333" stroke-width="0.6" stroke-dasharray="1.1 0.8" stroke-opacity="0.6"/>
</g>
</svg></body></html>
